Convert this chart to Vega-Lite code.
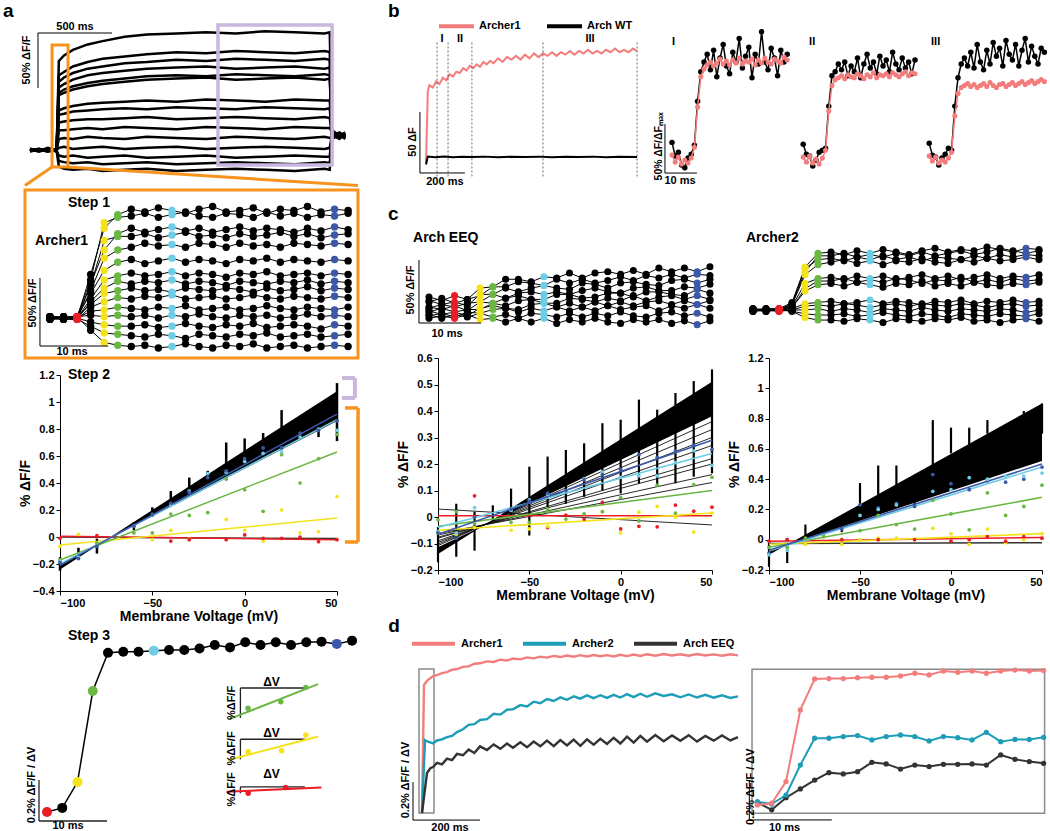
{
"$schema":"https://vega.github.io/schema/vega-lite/v6.json",
"padding":{"left":3,"top":0,"right":0,"bottom":0},
"config":{"font":"Liberation Sans","view":{"stroke":null},
"axis":{"grid":false,"domainColor":"#000","tickColor":"#000","labelColor":"#000","titleColor":"#000","labelFontSize":11,"labelFontWeight":"bold","titleFontSize":14,"titleFontWeight":"bold","tickSize":4,"labelPadding":2},
"text":{"font":"Liberation Sans","fontWeight":"bold","color":"#000"}},
"datasets":{
"a1":[
{"k":1,"x":-190,"y":1},{"k":1,"x":-130,"y":-1},{"k":1,"x":-70,"y":2},{"k":1,"x":-10,"y":0},{"k":1,"x":5,"y":81},{"k":1,"x":40,"y":86},{"k":1,"x":100,"y":91},{"k":1,"x":200,"y":96},{"k":1,"x":300,"y":99},{"k":1,"x":450,"y":103},{"k":1,"x":600,"y":105},{"k":1,"x":800,"y":106},{"k":1,"x":1000,"y":107},{"k":1,"x":1200,"y":106},{"k":1,"x":1400,"y":108},{"k":1,"x":1600,"y":107},{"k":1,"x":1800,"y":106},{"k":1,"x":1835,"y":107},{"k":1,"x":1850,"y":16},{"k":1,"x":1900,"y":12},{"k":1,"x":1940,"y":14},
{"k":2,"x":-190,"y":0},{"k":2,"x":-130,"y":1},{"k":2,"x":-70,"y":-1},{"k":2,"x":-10,"y":1},{"k":2,"x":5,"y":68},{"k":2,"x":40,"y":71},{"k":2,"x":100,"y":76},{"k":2,"x":200,"y":80},{"k":2,"x":300,"y":83},{"k":2,"x":450,"y":85},{"k":2,"x":600,"y":87},{"k":2,"x":800,"y":89},{"k":2,"x":1000,"y":88},{"k":2,"x":1200,"y":90},{"k":2,"x":1400,"y":89},{"k":2,"x":1600,"y":88},{"k":2,"x":1800,"y":90},{"k":2,"x":1835,"y":89},{"k":2,"x":1850,"y":14},{"k":2,"x":1900,"y":10},{"k":2,"x":1940,"y":15},
{"k":3,"x":-190,"y":-1},{"k":3,"x":-130,"y":0},{"k":3,"x":-70,"y":1},{"k":3,"x":-10,"y":-1},{"k":3,"x":5,"y":62},{"k":3,"x":40,"y":66},{"k":3,"x":100,"y":70},{"k":3,"x":200,"y":74},{"k":3,"x":300,"y":76},{"k":3,"x":450,"y":79},{"k":3,"x":600,"y":80},{"k":3,"x":800,"y":82},{"k":3,"x":1000,"y":81},{"k":3,"x":1200,"y":83},{"k":3,"x":1400,"y":82},{"k":3,"x":1600,"y":81},{"k":3,"x":1800,"y":83},{"k":3,"x":1835,"y":82},{"k":3,"x":1850,"y":18},{"k":3,"x":1900,"y":13},{"k":3,"x":1940,"y":11},
{"k":4,"x":-190,"y":1},{"k":4,"x":-130,"y":0},{"k":4,"x":-70,"y":-1},{"k":4,"x":-10,"y":0},{"k":4,"x":5,"y":57},{"k":4,"x":40,"y":60},{"k":4,"x":100,"y":64},{"k":4,"x":200,"y":68},{"k":4,"x":300,"y":70},{"k":4,"x":450,"y":72},{"k":4,"x":600,"y":74},{"k":4,"x":800,"y":75},{"k":4,"x":1000,"y":76},{"k":4,"x":1200,"y":74},{"k":4,"x":1400,"y":75},{"k":4,"x":1600,"y":76},{"k":4,"x":1800,"y":74},{"k":4,"x":1835,"y":75},{"k":4,"x":1850,"y":12},{"k":4,"x":1900,"y":16},{"k":4,"x":1940,"y":13},
{"k":5,"x":-190,"y":0},{"k":5,"x":-130,"y":-1},{"k":5,"x":-70,"y":0},{"k":5,"x":-10,"y":1},{"k":5,"x":5,"y":52},{"k":5,"x":40,"y":55},{"k":5,"x":100,"y":58},{"k":5,"x":200,"y":61},{"k":5,"x":300,"y":63},{"k":5,"x":450,"y":65},{"k":5,"x":600,"y":67},{"k":5,"x":800,"y":68},{"k":5,"x":1000,"y":67},{"k":5,"x":1200,"y":69},{"k":5,"x":1400,"y":68},{"k":5,"x":1600,"y":67},{"k":5,"x":1800,"y":69},{"k":5,"x":1835,"y":68},{"k":5,"x":1850,"y":15},{"k":5,"x":1900,"y":11},{"k":5,"x":1940,"y":14},
{"k":6,"x":-190,"y":-1},{"k":6,"x":-130,"y":1},{"k":6,"x":-70,"y":0},{"k":6,"x":-10,"y":-1},{"k":6,"x":5,"y":50},{"k":6,"x":40,"y":52},{"k":6,"x":100,"y":55},{"k":6,"x":200,"y":58},{"k":6,"x":300,"y":60},{"k":6,"x":450,"y":62},{"k":6,"x":600,"y":64},{"k":6,"x":800,"y":65},{"k":6,"x":1000,"y":66},{"k":6,"x":1200,"y":64},{"k":6,"x":1400,"y":65},{"k":6,"x":1600,"y":66},{"k":6,"x":1800,"y":64},{"k":6,"x":1835,"y":65},{"k":6,"x":1850,"y":17},{"k":6,"x":1900,"y":14},{"k":6,"x":1940,"y":10},
{"k":7,"x":-190,"y":0},{"k":7,"x":-130,"y":1},{"k":7,"x":-70,"y":-1},{"k":7,"x":-10,"y":0},{"k":7,"x":5,"y":36},{"k":7,"x":40,"y":38},{"k":7,"x":100,"y":40},{"k":7,"x":200,"y":42},{"k":7,"x":300,"y":43},{"k":7,"x":450,"y":44},{"k":7,"x":600,"y":45},{"k":7,"x":800,"y":44},{"k":7,"x":1000,"y":46},{"k":7,"x":1200,"y":45},{"k":7,"x":1400,"y":44},{"k":7,"x":1600,"y":46},{"k":7,"x":1800,"y":45},{"k":7,"x":1835,"y":45},{"k":7,"x":1850,"y":13},{"k":7,"x":1900,"y":15},{"k":7,"x":1940,"y":12},
{"k":8,"x":-190,"y":1},{"k":8,"x":-130,"y":-1},{"k":8,"x":-70,"y":0},{"k":8,"x":-10,"y":1},{"k":8,"x":5,"y":32},{"k":8,"x":40,"y":33},{"k":8,"x":100,"y":35},{"k":8,"x":200,"y":36},{"k":8,"x":300,"y":37},{"k":8,"x":450,"y":38},{"k":8,"x":600,"y":37},{"k":8,"x":800,"y":39},{"k":8,"x":1000,"y":38},{"k":8,"x":1200,"y":37},{"k":8,"x":1400,"y":39},{"k":8,"x":1600,"y":38},{"k":8,"x":1800,"y":37},{"k":8,"x":1835,"y":38},{"k":8,"x":1850,"y":11},{"k":8,"x":1900,"y":13},{"k":8,"x":1940,"y":16},
{"k":9,"x":-190,"y":0},{"k":9,"x":-130,"y":0},{"k":9,"x":-70,"y":1},{"k":9,"x":-10,"y":-1},{"k":9,"x":5,"y":25},{"k":9,"x":40,"y":26},{"k":9,"x":100,"y":27},{"k":9,"x":200,"y":28},{"k":9,"x":300,"y":28},{"k":9,"x":450,"y":29},{"k":9,"x":600,"y":30},{"k":9,"x":800,"y":28},{"k":9,"x":1000,"y":29},{"k":9,"x":1200,"y":30},{"k":9,"x":1400,"y":29},{"k":9,"x":1600,"y":28},{"k":9,"x":1800,"y":30},{"k":9,"x":1835,"y":29},{"k":9,"x":1850,"y":14},{"k":9,"x":1900,"y":12},{"k":9,"x":1940,"y":13},
{"k":10,"x":-190,"y":-1},{"k":10,"x":-130,"y":1},{"k":10,"x":-70,"y":0},{"k":10,"x":-10,"y":0},{"k":10,"x":5,"y":18},{"k":10,"x":40,"y":18},{"k":10,"x":100,"y":19},{"k":10,"x":200,"y":20},{"k":10,"x":300,"y":19},{"k":10,"x":450,"y":21},{"k":10,"x":600,"y":20},{"k":10,"x":800,"y":19},{"k":10,"x":1000,"y":21},{"k":10,"x":1200,"y":20},{"k":10,"x":1400,"y":19},{"k":10,"x":1600,"y":21},{"k":10,"x":1800,"y":20},{"k":10,"x":1835,"y":20},{"k":10,"x":1850,"y":16},{"k":10,"x":1900,"y":14},{"k":10,"x":1940,"y":11},
{"k":11,"x":-190,"y":1},{"k":11,"x":-130,"y":0},{"k":11,"x":-70,"y":-1},{"k":11,"x":-10,"y":1},{"k":11,"x":5,"y":10},{"k":11,"x":40,"y":11},{"k":11,"x":100,"y":10},{"k":11,"x":200,"y":12},{"k":11,"x":300,"y":11},{"k":11,"x":450,"y":10},{"k":11,"x":600,"y":12},{"k":11,"x":800,"y":11},{"k":11,"x":1000,"y":10},{"k":11,"x":1200,"y":12},{"k":11,"x":1400,"y":11},{"k":11,"x":1600,"y":10},{"k":11,"x":1800,"y":12},{"k":11,"x":1835,"y":11},{"k":11,"x":1850,"y":12},{"k":11,"x":1900,"y":15},{"k":11,"x":1940,"y":13},
{"k":12,"x":-190,"y":0},{"k":12,"x":-130,"y":-1},{"k":12,"x":-70,"y":1},{"k":12,"x":-10,"y":0},{"k":12,"x":5,"y":2},{"k":12,"x":40,"y":3},{"k":12,"x":100,"y":1},{"k":12,"x":200,"y":2},{"k":12,"x":300,"y":3},{"k":12,"x":450,"y":1},{"k":12,"x":600,"y":2},{"k":12,"x":800,"y":3},{"k":12,"x":1000,"y":1},{"k":12,"x":1200,"y":2},{"k":12,"x":1400,"y":3},{"k":12,"x":1600,"y":2},{"k":12,"x":1800,"y":1},{"k":12,"x":1835,"y":2},{"k":12,"x":1850,"y":13},{"k":12,"x":1900,"y":11},{"k":12,"x":1940,"y":14},
{"k":13,"x":-190,"y":-1},{"k":13,"x":-130,"y":0},{"k":13,"x":-70,"y":1},{"k":13,"x":-10,"y":-1},{"k":13,"x":5,"y":-5},{"k":13,"x":40,"y":-6},{"k":13,"x":100,"y":-5},{"k":13,"x":200,"y":-7},{"k":13,"x":300,"y":-6},{"k":13,"x":450,"y":-5},{"k":13,"x":600,"y":-7},{"k":13,"x":800,"y":-6},{"k":13,"x":1000,"y":-5},{"k":13,"x":1200,"y":-7},{"k":13,"x":1400,"y":-6},{"k":13,"x":1600,"y":-5},{"k":13,"x":1800,"y":-6},{"k":13,"x":1835,"y":-6},{"k":13,"x":1850,"y":15},{"k":13,"x":1900,"y":13},{"k":13,"x":1940,"y":12},
{"k":14,"x":-190,"y":1},{"k":14,"x":-130,"y":0},{"k":14,"x":-70,"y":-1},{"k":14,"x":-10,"y":0},{"k":14,"x":5,"y":-10},{"k":14,"x":40,"y":-11},{"k":14,"x":100,"y":-12},{"k":14,"x":200,"y":-11},{"k":14,"x":300,"y":-13},{"k":14,"x":450,"y":-12},{"k":14,"x":600,"y":-11},{"k":14,"x":800,"y":-13},{"k":14,"x":1000,"y":-12},{"k":14,"x":1200,"y":-11},{"k":14,"x":1400,"y":-12},{"k":14,"x":1600,"y":-13},{"k":14,"x":1800,"y":-11},{"k":14,"x":1835,"y":-12},{"k":14,"x":1850,"y":10},{"k":14,"x":1900,"y":14},{"k":14,"x":1940,"y":13},
{"k":15,"x":-190,"y":0},{"k":15,"x":-130,"y":1},{"k":15,"x":-70,"y":0},{"k":15,"x":-10,"y":-1},{"k":15,"x":5,"y":-15},{"k":15,"x":40,"y":-17},{"k":15,"x":100,"y":-18},{"k":15,"x":200,"y":-17},{"k":15,"x":300,"y":-19},{"k":15,"x":450,"y":-18},{"k":15,"x":600,"y":-17},{"k":15,"x":800,"y":-19},{"k":15,"x":1000,"y":-18},{"k":15,"x":1200,"y":-17},{"k":15,"x":1400,"y":-18},{"k":15,"x":1600,"y":-19},{"k":15,"x":1800,"y":-17},{"k":15,"x":1835,"y":-18},{"k":15,"x":1850,"y":14},{"k":15,"x":1900,"y":12},{"k":15,"x":1940,"y":15}
],
"a2":[
{"k":1,"x":0,"y":1},{"k":1,"x":1,"y":-1},{"k":1,"x":2,"y":0},{"k":1,"x":3,"y":32},{"k":1,"x":4,"y":66},{"k":1,"x":5,"y":76},{"k":1,"x":6,"y":80},{"k":1,"x":7,"y":78},{"k":1,"x":8,"y":81},{"k":1,"x":9,"y":79},{"k":1,"x":10,"y":77},{"k":1,"x":11,"y":80},{"k":1,"x":12,"y":82},{"k":1,"x":13,"y":78},{"k":1,"x":14,"y":79},{"k":1,"x":15,"y":81},{"k":1,"x":16,"y":77},{"k":1,"x":17,"y":80},{"k":1,"x":18,"y":79},{"k":1,"x":19,"y":82},{"k":1,"x":20,"y":78},{"k":1,"x":21,"y":80},{"k":1,"x":22,"y":79},
{"k":2,"x":0,"y":-1},{"k":2,"x":1,"y":1},{"k":2,"x":2,"y":1},{"k":2,"x":3,"y":28},{"k":2,"x":4,"y":70},{"k":2,"x":5,"y":74},{"k":2,"x":6,"y":75},{"k":2,"x":7,"y":77},{"k":2,"x":8,"y":74},{"k":2,"x":9,"y":76},{"k":2,"x":10,"y":78},{"k":2,"x":11,"y":75},{"k":2,"x":12,"y":74},{"k":2,"x":13,"y":77},{"k":2,"x":14,"y":76},{"k":2,"x":15,"y":74},{"k":2,"x":16,"y":78},{"k":2,"x":17,"y":75},{"k":2,"x":18,"y":77},{"k":2,"x":19,"y":74},{"k":2,"x":20,"y":76},{"k":2,"x":21,"y":75},{"k":2,"x":22,"y":77},
{"k":3,"x":0,"y":0},{"k":3,"x":1,"y":1},{"k":3,"x":2,"y":-1},{"k":3,"x":3,"y":25},{"k":3,"x":4,"y":50},{"k":3,"x":5,"y":62},{"k":3,"x":6,"y":66},{"k":3,"x":7,"y":63},{"k":3,"x":8,"y":65},{"k":3,"x":9,"y":67},{"k":3,"x":10,"y":64},{"k":3,"x":11,"y":66},{"k":3,"x":12,"y":63},{"k":3,"x":13,"y":65},{"k":3,"x":14,"y":67},{"k":3,"x":15,"y":64},{"k":3,"x":16,"y":66},{"k":3,"x":17,"y":65},{"k":3,"x":18,"y":63},{"k":3,"x":19,"y":66},{"k":3,"x":20,"y":64},{"k":3,"x":21,"y":67},{"k":3,"x":22,"y":65},
{"k":4,"x":0,"y":1},{"k":4,"x":1,"y":0},{"k":4,"x":2,"y":1},{"k":4,"x":3,"y":24},{"k":4,"x":4,"y":57},{"k":4,"x":5,"y":60},{"k":4,"x":6,"y":60},{"k":4,"x":7,"y":62},{"k":4,"x":8,"y":59},{"k":4,"x":9,"y":61},{"k":4,"x":10,"y":63},{"k":4,"x":11,"y":60},{"k":4,"x":12,"y":61},{"k":4,"x":13,"y":59},{"k":4,"x":14,"y":62},{"k":4,"x":15,"y":60},{"k":4,"x":16,"y":61},{"k":4,"x":17,"y":63},{"k":4,"x":18,"y":60},{"k":4,"x":19,"y":62},{"k":4,"x":20,"y":59},{"k":4,"x":21,"y":61},{"k":4,"x":22,"y":62},
{"k":5,"x":0,"y":-1},{"k":5,"x":1,"y":0},{"k":5,"x":2,"y":0},{"k":5,"x":3,"y":20},{"k":5,"x":4,"y":44},{"k":5,"x":5,"y":50},{"k":5,"x":6,"y":52},{"k":5,"x":7,"y":55},{"k":5,"x":8,"y":53},{"k":5,"x":9,"y":54},{"k":5,"x":10,"y":52},{"k":5,"x":11,"y":55},{"k":5,"x":12,"y":54},{"k":5,"x":13,"y":52},{"k":5,"x":14,"y":55},{"k":5,"x":15,"y":53},{"k":5,"x":16,"y":54},{"k":5,"x":17,"y":52},{"k":5,"x":18,"y":55},{"k":5,"x":19,"y":54},{"k":5,"x":20,"y":53},{"k":5,"x":21,"y":55},{"k":5,"x":22,"y":54},
{"k":6,"x":0,"y":0},{"k":6,"x":1,"y":-1},{"k":6,"x":2,"y":1},{"k":6,"x":3,"y":18},{"k":6,"x":4,"y":35},{"k":6,"x":5,"y":41},{"k":6,"x":6,"y":43},{"k":6,"x":7,"y":40},{"k":6,"x":8,"y":42},{"k":6,"x":9,"y":44},{"k":6,"x":10,"y":41},{"k":6,"x":11,"y":43},{"k":6,"x":12,"y":42},{"k":6,"x":13,"y":40},{"k":6,"x":14,"y":43},{"k":6,"x":15,"y":42},{"k":6,"x":16,"y":44},{"k":6,"x":17,"y":41},{"k":6,"x":18,"y":43},{"k":6,"x":19,"y":42},{"k":6,"x":20,"y":41},{"k":6,"x":21,"y":43},{"k":6,"x":22,"y":42},
{"k":7,"x":0,"y":1},{"k":7,"x":1,"y":1},{"k":7,"x":2,"y":0},{"k":7,"x":3,"y":14},{"k":7,"x":4,"y":28},{"k":7,"x":5,"y":31},{"k":7,"x":6,"y":33},{"k":7,"x":7,"y":31},{"k":7,"x":8,"y":32},{"k":7,"x":9,"y":34},{"k":7,"x":10,"y":31},{"k":7,"x":11,"y":33},{"k":7,"x":12,"y":32},{"k":7,"x":13,"y":30},{"k":7,"x":14,"y":33},{"k":7,"x":15,"y":32},{"k":7,"x":16,"y":34},{"k":7,"x":17,"y":31},{"k":7,"x":18,"y":32},{"k":7,"x":19,"y":33},{"k":7,"x":20,"y":31},{"k":7,"x":21,"y":33},{"k":7,"x":22,"y":32},
{"k":8,"x":0,"y":0},{"k":8,"x":1,"y":-1},{"k":8,"x":2,"y":-1},{"k":8,"x":3,"y":12},{"k":8,"x":4,"y":22},{"k":8,"x":5,"y":27},{"k":8,"x":6,"y":25},{"k":8,"x":7,"y":27},{"k":8,"x":8,"y":26},{"k":8,"x":9,"y":28},{"k":8,"x":10,"y":25},{"k":8,"x":11,"y":27},{"k":8,"x":12,"y":26},{"k":8,"x":13,"y":24},{"k":8,"x":14,"y":27},{"k":8,"x":15,"y":26},{"k":8,"x":16,"y":25},{"k":8,"x":17,"y":27},{"k":8,"x":18,"y":26},{"k":8,"x":19,"y":28},{"k":8,"x":20,"y":25},{"k":8,"x":21,"y":27},{"k":8,"x":22,"y":26},
{"k":9,"x":0,"y":-1},{"k":9,"x":1,"y":0},{"k":9,"x":2,"y":1},{"k":9,"x":3,"y":10},{"k":9,"x":4,"y":18},{"k":9,"x":5,"y":20},{"k":9,"x":6,"y":22},{"k":9,"x":7,"y":20},{"k":9,"x":8,"y":21},{"k":9,"x":9,"y":19},{"k":9,"x":10,"y":22},{"k":9,"x":11,"y":21},{"k":9,"x":12,"y":20},{"k":9,"x":13,"y":22},{"k":9,"x":14,"y":21},{"k":9,"x":15,"y":19},{"k":9,"x":16,"y":22},{"k":9,"x":17,"y":20},{"k":9,"x":18,"y":21},{"k":9,"x":19,"y":23},{"k":9,"x":20,"y":20},{"k":9,"x":21,"y":22},{"k":9,"x":22,"y":21},
{"k":10,"x":0,"y":1},{"k":10,"x":1,"y":0},{"k":10,"x":2,"y":-1},{"k":10,"x":3,"y":8},{"k":10,"x":4,"y":12},{"k":10,"x":5,"y":15},{"k":10,"x":6,"y":14},{"k":10,"x":7,"y":16},{"k":10,"x":8,"y":15},{"k":10,"x":9,"y":17},{"k":10,"x":10,"y":14},{"k":10,"x":11,"y":15},{"k":10,"x":12,"y":16},{"k":10,"x":13,"y":14},{"k":10,"x":14,"y":15},{"k":10,"x":15,"y":17},{"k":10,"x":16,"y":15},{"k":10,"x":17,"y":14},{"k":10,"x":18,"y":16},{"k":10,"x":19,"y":15},{"k":10,"x":20,"y":14},{"k":10,"x":21,"y":16},{"k":10,"x":22,"y":15},
{"k":11,"x":0,"y":0},{"k":11,"x":1,"y":1},{"k":11,"x":2,"y":0},{"k":11,"x":3,"y":5},{"k":11,"x":4,"y":6},{"k":11,"x":5,"y":8},{"k":11,"x":6,"y":7},{"k":11,"x":7,"y":6},{"k":11,"x":8,"y":8},{"k":11,"x":9,"y":7},{"k":11,"x":10,"y":9},{"k":11,"x":11,"y":6},{"k":11,"x":12,"y":7},{"k":11,"x":13,"y":8},{"k":11,"x":14,"y":6},{"k":11,"x":15,"y":7},{"k":11,"x":16,"y":9},{"k":11,"x":17,"y":7},{"k":11,"x":18,"y":6},{"k":11,"x":19,"y":8},{"k":11,"x":20,"y":7},{"k":11,"x":21,"y":6},{"k":11,"x":22,"y":8},
{"k":12,"x":0,"y":-1},{"k":12,"x":1,"y":0},{"k":12,"x":2,"y":1},{"k":12,"x":3,"y":2},{"k":12,"x":4,"y":1},{"k":12,"x":5,"y":2},{"k":12,"x":6,"y":1},{"k":12,"x":7,"y":2},{"k":12,"x":8,"y":0},{"k":12,"x":9,"y":2},{"k":12,"x":10,"y":1},{"k":12,"x":11,"y":3},{"k":12,"x":12,"y":1},{"k":12,"x":13,"y":0},{"k":12,"x":14,"y":2},{"k":12,"x":15,"y":1},{"k":12,"x":16,"y":2},{"k":12,"x":17,"y":0},{"k":12,"x":18,"y":1},{"k":12,"x":19,"y":3},{"k":12,"x":20,"y":1},{"k":12,"x":21,"y":2},{"k":12,"x":22,"y":1},
{"k":13,"x":0,"y":0},{"k":13,"x":1,"y":-1},{"k":13,"x":2,"y":0},{"k":13,"x":3,"y":-3},{"k":13,"x":4,"y":-5},{"k":13,"x":5,"y":-6},{"k":13,"x":6,"y":-6},{"k":13,"x":7,"y":-5},{"k":13,"x":8,"y":-7},{"k":13,"x":9,"y":-6},{"k":13,"x":10,"y":-4},{"k":13,"x":11,"y":-6},{"k":13,"x":12,"y":-7},{"k":13,"x":13,"y":-5},{"k":13,"x":14,"y":-6},{"k":13,"x":15,"y":-4},{"k":13,"x":16,"y":-7},{"k":13,"x":17,"y":-6},{"k":13,"x":18,"y":-5},{"k":13,"x":19,"y":-6},{"k":13,"x":20,"y":-8},{"k":13,"x":21,"y":-5},{"k":13,"x":22,"y":-6},
{"k":14,"x":0,"y":1},{"k":14,"x":1,"y":0},{"k":14,"x":2,"y":-1},{"k":14,"x":3,"y":-6},{"k":14,"x":4,"y":-11},{"k":14,"x":5,"y":-12},{"k":14,"x":6,"y":-13},{"k":14,"x":7,"y":-14},{"k":14,"x":8,"y":-12},{"k":14,"x":9,"y":-13},{"k":14,"x":10,"y":-15},{"k":14,"x":11,"y":-12},{"k":14,"x":12,"y":-13},{"k":14,"x":13,"y":-14},{"k":14,"x":14,"y":-12},{"k":14,"x":15,"y":-13},{"k":14,"x":16,"y":-11},{"k":14,"x":17,"y":-14},{"k":14,"x":18,"y":-13},{"k":14,"x":19,"y":-12},{"k":14,"x":20,"y":-14},{"k":14,"x":21,"y":-13},{"k":14,"x":22,"y":-12},
{"k":15,"x":0,"y":0},{"k":15,"x":1,"y":0},{"k":15,"x":2,"y":1},{"k":15,"x":3,"y":-9},{"k":15,"x":4,"y":-18},{"k":15,"x":5,"y":-20},{"k":15,"x":6,"y":-21},{"k":15,"x":7,"y":-20},{"k":15,"x":8,"y":-22},{"k":15,"x":9,"y":-21},{"k":15,"x":10,"y":-19},{"k":15,"x":11,"y":-21},{"k":15,"x":12,"y":-22},{"k":15,"x":13,"y":-20},{"k":15,"x":14,"y":-21},{"k":15,"x":15,"y":-19},{"k":15,"x":16,"y":-22},{"k":15,"x":17,"y":-21},{"k":15,"x":18,"y":-20},{"k":15,"x":19,"y":-22},{"k":15,"x":20,"y":-21},{"k":15,"x":21,"y":-20},{"k":15,"x":22,"y":-21}
],
"a3w":[{"x":-100,"y":-0.24,"y2":-0.2},{"x":-76.9,"y":-0.037,"y2":-0.037},{"x":50,"y":1.08,"y2":0.86}],
"a3s":[{"x":-100,"y":-0.25,"y2":-0.15},{"x":-90,"y":-0.17,"y2":-0.08},{"x":-80,"y":-0.123,"y2":-0.012},{"x":-70,"y":-0.02,"y2":0.01},{"x":-60,"y":0.05,"y2":0.11},{"x":-50,"y":0.15,"y2":0.22},{"x":-40,"y":0.25,"y2":0.34},{"x":-30,"y":0.32,"y2":0.44},{"x":-20,"y":0.44,"y2":0.49},{"x":-10,"y":0.42,"y2":0.7},{"x":0,"y":0.59,"y2":0.73},{"x":10,"y":0.64,"y2":0.77},{"x":20,"y":0.66,"y2":0.94},{"x":30,"y":0.74,"y2":0.85},{"x":40,"y":0.74,"y2":0.88},{"x":50,"y":0.71,"y2":1.14}],
"a3l":[{"s":3,"x":-100,"y":0},{"s":3,"x":50,"y":-0.012},{"s":2,"x":-100,"y":0.005},{"s":2,"x":50,"y":-0.02},{"s":4,"x":-100,"y":-0.06},{"s":4,"x":50,"y":0.14},{"s":5,"x":-100,"y":-0.17},{"s":5,"x":50,"y":0.63},{"s":9,"x":-100,"y":-0.2},{"s":9,"x":50,"y":0.87},{"s":21,"x":-100,"y":-0.21},{"s":21,"x":50,"y":0.91}],
"a3d":[{"s":5,"x":-100,"y":-0.17},{"s":5,"x":-80,"y":-0.045},{"s":5,"x":-60,"y":0.03},{"s":5,"x":-50,"y":0.03},{"s":5,"x":-40,"y":0.17},{"s":5,"x":-30,"y":0.16},{"s":5,"x":-20,"y":0.18},{"s":5,"x":-10,"y":0.43},{"s":5,"x":0,"y":0.35},{"s":5,"x":10,"y":0.19},{"s":5,"x":20,"y":0.61},{"s":5,"x":30,"y":0.4},{"s":5,"x":40,"y":0.58},{"s":5,"x":50,"y":0.76},
{"s":4,"x":-100,"y":-0.07},{"s":4,"x":-90,"y":0.02},{"s":4,"x":-50,"y":-0.02},{"s":4,"x":-40,"y":0.05},{"s":4,"x":-30,"y":-0.015},{"s":4,"x":-10,"y":0.13},{"s":4,"x":0,"y":0.05},{"s":4,"x":10,"y":-0.03},{"s":4,"x":20,"y":0.2},{"s":4,"x":30,"y":0.03},{"s":4,"x":40,"y":0.04},{"s":4,"x":50,"y":0.3},
{"s":2,"x":-100,"y":-0.01},{"s":2,"x":-80,"y":0.01},{"s":2,"x":-40,"y":-0.03},{"s":2,"x":-30,"y":-0.02},{"s":2,"x":-10,"y":-0.02},{"s":2,"x":0,"y":0.015},{"s":2,"x":10,"y":-0.01},{"s":2,"x":20,"y":-0.01},{"s":2,"x":30,"y":0},{"s":2,"x":40,"y":-0.035},{"s":2,"x":50,"y":-0.02},
{"s":9,"x":-100,"y":-0.18},{"s":9,"x":-90,"y":-0.15},{"s":9,"x":-60,"y":0.08},{"s":9,"x":-40,"y":0.24},{"s":9,"x":-30,"y":0.34},{"s":9,"x":-20,"y":0.47},{"s":9,"x":-10,"y":0.48},{"s":9,"x":0,"y":0.56},{"s":9,"x":10,"y":0.62},{"s":9,"x":20,"y":0.63},{"s":9,"x":30,"y":0.74},{"s":9,"x":40,"y":0.8},{"s":9,"x":50,"y":0.79},
{"s":21,"x":-100,"y":-0.19},{"s":21,"x":-90,"y":-0.16},{"s":21,"x":-80,"y":-0.07},{"s":21,"x":-60,"y":0.08},{"s":21,"x":-50,"y":0.17},{"s":21,"x":-40,"y":0.25},{"s":21,"x":-30,"y":0.33},{"s":21,"x":-20,"y":0.44},{"s":21,"x":-10,"y":0.49},{"s":21,"x":0,"y":0.58},{"s":21,"x":10,"y":0.66},{"s":21,"x":20,"y":0.66},{"s":21,"x":30,"y":0.77},{"s":21,"x":40,"y":0.79},{"s":21,"x":50,"y":0.86}],
"a4":[{"x":2,"y":0},{"x":3,"y":0.02},{"x":4,"y":0.146},{"x":5,"y":0.59},{"x":6,"y":0.777},{"x":7,"y":0.782},{"x":8,"y":0.782},{"x":9,"y":0.787},{"x":10,"y":0.79},{"x":11,"y":0.79},{"x":12,"y":0.798},{"x":13,"y":0.815},{"x":14,"y":0.803},{"x":15,"y":0.828},{"x":16,"y":0.815},{"x":17,"y":0.828},{"x":18,"y":0.815},{"x":19,"y":0.828},{"x":20,"y":0.831},{"x":21,"y":0.82},{"x":22,"y":0.836}],
"btr":[
{"series":"Archer1","x":0,"y":-1},{"series":"Archer1","x":8,"y":58},{"series":"Archer1","x":15,"y":63},{"series":"Archer1","x":30,"y":61},{"series":"Archer1","x":45,"y":66},{"series":"Archer1","x":60,"y":64},{"series":"Archer1","x":75,"y":69},{"series":"Archer1","x":90,"y":67},{"series":"Archer1","x":105,"y":72},{"series":"Archer1","x":120,"y":70},{"series":"Archer1","x":135,"y":74},{"series":"Archer1","x":150,"y":73},{"series":"Archer1","x":165,"y":77},{"series":"Archer1","x":180,"y":75},{"series":"Archer1","x":195,"y":79},{"series":"Archer1","x":210,"y":77},{"series":"Archer1","x":225,"y":80},{"series":"Archer1","x":240,"y":78},{"series":"Archer1","x":255,"y":82},{"series":"Archer1","x":270,"y":80},{"series":"Archer1","x":285,"y":83},{"series":"Archer1","x":300,"y":81},{"series":"Archer1","x":320,"y":85},{"series":"Archer1","x":340,"y":82},{"series":"Archer1","x":360,"y":86},{"series":"Archer1","x":380,"y":84},{"series":"Archer1","x":400,"y":87},{"series":"Archer1","x":420,"y":84},{"series":"Archer1","x":440,"y":88},{"series":"Archer1","x":460,"y":85},{"series":"Archer1","x":480,"y":89},{"series":"Archer1","x":500,"y":86},{"series":"Archer1","x":520,"y":89},{"series":"Archer1","x":540,"y":87},{"series":"Archer1","x":560,"y":90},{"series":"Archer1","x":580,"y":87},{"series":"Archer1","x":600,"y":90},{"series":"Archer1","x":620,"y":88},{"series":"Archer1","x":640,"y":91},{"series":"Archer1","x":660,"y":88},{"series":"Archer1","x":680,"y":91},{"series":"Archer1","x":700,"y":89},{"series":"Archer1","x":720,"y":92},{"series":"Archer1","x":740,"y":89},{"series":"Archer1","x":760,"y":91},{"series":"Archer1","x":780,"y":89},{"series":"Archer1","x":800,"y":92},{"series":"Archer1","x":820,"y":90},{"series":"Archer1","x":840,"y":93},{"series":"Archer1","x":860,"y":90},{"series":"Archer1","x":880,"y":92},{"series":"Archer1","x":900,"y":90},{"series":"Archer1","x":920,"y":93},{"series":"Archer1","x":938,"y":91},
{"series":"Arch WT","x":0,"y":-2},{"series":"Arch WT","x":8,"y":4.5},{"series":"Arch WT","x":40,"y":3.8},{"series":"Arch WT","x":80,"y":4.4},{"series":"Arch WT","x":120,"y":3.9},{"series":"Arch WT","x":160,"y":4.3},{"series":"Arch WT","x":200,"y":4},{"series":"Arch WT","x":260,"y":4.4},{"series":"Arch WT","x":320,"y":3.9},{"series":"Arch WT","x":380,"y":4.3},{"series":"Arch WT","x":440,"y":4},{"series":"Arch WT","x":500,"y":4.4},{"series":"Arch WT","x":560,"y":3.9},{"series":"Arch WT","x":620,"y":4.2},{"series":"Arch WT","x":680,"y":4},{"series":"Arch WT","x":740,"y":4.4},{"series":"Arch WT","x":800,"y":3.9},{"series":"Arch WT","x":860,"y":4.3},{"series":"Arch WT","x":938,"y":4.1}],
"bin":[
{"w":"I","s":"A1","x":0,"y":5},{"w":"I","s":"A1","x":1,"y":-2},{"w":"I","s":"A1","x":2,"y":3},{"w":"I","s":"A1","x":3,"y":-4},{"w":"I","s":"A1","x":4,"y":0},{"w":"I","s":"A1","x":5,"y":-3},{"w":"I","s":"A1","x":6,"y":2},{"w":"I","s":"A1","x":7,"y":13},{"w":"I","s":"A1","x":8,"y":54},{"w":"I","s":"A1","x":9,"y":85},{"w":"I","s":"A1","x":10,"y":93},{"w":"I","s":"A1","x":11,"y":97},{"w":"I","s":"A1","x":12,"y":100},{"w":"I","s":"A1","x":13,"y":96},{"w":"I","s":"A1","x":14,"y":99},{"w":"I","s":"A1","x":15,"y":103},{"w":"I","s":"A1","x":16,"y":98},{"w":"I","s":"A1","x":17,"y":101},{"w":"I","s":"A1","x":18,"y":97},{"w":"I","s":"A1","x":19,"y":102},{"w":"I","s":"A1","x":20,"y":99},{"w":"I","s":"A1","x":21,"y":104},{"w":"I","s":"A1","x":22,"y":98},{"w":"I","s":"A1","x":23,"y":101},{"w":"I","s":"A1","x":24,"y":100},{"w":"I","s":"A1","x":25,"y":103},{"w":"I","s":"A1","x":26,"y":97},{"w":"I","s":"A1","x":27,"y":102},{"w":"I","s":"A1","x":28,"y":99},{"w":"I","s":"A1","x":29,"y":104},{"w":"I","s":"A1","x":30,"y":100},{"w":"I","s":"A1","x":31,"y":98},{"w":"I","s":"A1","x":32,"y":103},{"w":"I","s":"A1","x":33,"y":101},{"w":"I","s":"A1","x":34,"y":99},{"w":"I","s":"A1","x":35,"y":105},{"w":"I","s":"A1","x":36,"y":102},
{"w":"I","s":"WT","x":0,"y":18},{"w":"I","s":"WT","x":1,"y":4},{"w":"I","s":"WT","x":2,"y":8},{"w":"I","s":"WT","x":3,"y":-5},{"w":"I","s":"WT","x":4,"y":-8},{"w":"I","s":"WT","x":5,"y":2},{"w":"I","s":"WT","x":6,"y":6},{"w":"I","s":"WT","x":7,"y":15},{"w":"I","s":"WT","x":8,"y":60},{"w":"I","s":"WT","x":9,"y":90},{"w":"I","s":"WT","x":10,"y":100},{"w":"I","s":"WT","x":11,"y":108},{"w":"I","s":"WT","x":12,"y":92},{"w":"I","s":"WT","x":13,"y":112},{"w":"I","s":"WT","x":14,"y":85},{"w":"I","s":"WT","x":15,"y":104},{"w":"I","s":"WT","x":16,"y":118},{"w":"I","s":"WT","x":17,"y":96},{"w":"I","s":"WT","x":18,"y":88},{"w":"I","s":"WT","x":19,"y":110},{"w":"I","s":"WT","x":20,"y":100},{"w":"I","s":"WT","x":21,"y":124},{"w":"I","s":"WT","x":22,"y":94},{"w":"I","s":"WT","x":23,"y":106},{"w":"I","s":"WT","x":24,"y":115},{"w":"I","s":"WT","x":25,"y":84},{"w":"I","s":"WT","x":26,"y":108},{"w":"I","s":"WT","x":27,"y":98},{"w":"I","s":"WT","x":28,"y":131},{"w":"I","s":"WT","x":29,"y":100},{"w":"I","s":"WT","x":30,"y":92},{"w":"I","s":"WT","x":31,"y":114},{"w":"I","s":"WT","x":32,"y":104},{"w":"I","s":"WT","x":33,"y":86},{"w":"I","s":"WT","x":34,"y":112},{"w":"I","s":"WT","x":35,"y":100},{"w":"I","s":"WT","x":36,"y":108},
{"w":"II","s":"A1","x":0,"y":3},{"w":"II","s":"A1","x":1,"y":-2},{"w":"II","s":"A1","x":2,"y":4},{"w":"II","s":"A1","x":3,"y":-3},{"w":"II","s":"A1","x":4,"y":1},{"w":"II","s":"A1","x":5,"y":-4},{"w":"II","s":"A1","x":6,"y":2},{"w":"II","s":"A1","x":7,"y":10},{"w":"II","s":"A1","x":8,"y":50},{"w":"II","s":"A1","x":9,"y":76},{"w":"II","s":"A1","x":10,"y":82},{"w":"II","s":"A1","x":11,"y":84},{"w":"II","s":"A1","x":12,"y":86},{"w":"II","s":"A1","x":13,"y":83},{"w":"II","s":"A1","x":14,"y":87},{"w":"II","s":"A1","x":15,"y":85},{"w":"II","s":"A1","x":16,"y":84},{"w":"II","s":"A1","x":17,"y":88},{"w":"II","s":"A1","x":18,"y":86},{"w":"II","s":"A1","x":19,"y":83},{"w":"II","s":"A1","x":20,"y":87},{"w":"II","s":"A1","x":21,"y":85},{"w":"II","s":"A1","x":22,"y":89},{"w":"II","s":"A1","x":23,"y":84},{"w":"II","s":"A1","x":24,"y":87},{"w":"II","s":"A1","x":25,"y":86},{"w":"II","s":"A1","x":26,"y":88},{"w":"II","s":"A1","x":27,"y":85},{"w":"II","s":"A1","x":28,"y":89},{"w":"II","s":"A1","x":29,"y":87},{"w":"II","s":"A1","x":30,"y":85},{"w":"II","s":"A1","x":31,"y":88},{"w":"II","s":"A1","x":32,"y":90},{"w":"II","s":"A1","x":33,"y":86},{"w":"II","s":"A1","x":34,"y":89},{"w":"II","s":"A1","x":35,"y":88},
{"w":"II","s":"WT","x":0,"y":16},{"w":"II","s":"WT","x":1,"y":6},{"w":"II","s":"WT","x":2,"y":4},{"w":"II","s":"WT","x":3,"y":-6},{"w":"II","s":"WT","x":4,"y":0},{"w":"II","s":"WT","x":5,"y":8},{"w":"II","s":"WT","x":6,"y":10},{"w":"II","s":"WT","x":7,"y":12},{"w":"II","s":"WT","x":8,"y":55},{"w":"II","s":"WT","x":9,"y":86},{"w":"II","s":"WT","x":10,"y":90},{"w":"II","s":"WT","x":11,"y":98},{"w":"II","s":"WT","x":12,"y":92},{"w":"II","s":"WT","x":13,"y":100},{"w":"II","s":"WT","x":14,"y":86},{"w":"II","s":"WT","x":15,"y":96},{"w":"II","s":"WT","x":16,"y":90},{"w":"II","s":"WT","x":17,"y":104},{"w":"II","s":"WT","x":18,"y":84},{"w":"II","s":"WT","x":19,"y":98},{"w":"II","s":"WT","x":20,"y":108},{"w":"II","s":"WT","x":21,"y":94},{"w":"II","s":"WT","x":22,"y":100},{"w":"II","s":"WT","x":23,"y":88},{"w":"II","s":"WT","x":24,"y":106},{"w":"II","s":"WT","x":25,"y":96},{"w":"II","s":"WT","x":26,"y":102},{"w":"II","s":"WT","x":27,"y":90},{"w":"II","s":"WT","x":28,"y":110},{"w":"II","s":"WT","x":29,"y":98},{"w":"II","s":"WT","x":30,"y":92},{"w":"II","s":"WT","x":31,"y":104},{"w":"II","s":"WT","x":32,"y":94},{"w":"II","s":"WT","x":33,"y":100},{"w":"II","s":"WT","x":34,"y":88},{"w":"II","s":"WT","x":35,"y":102},
{"w":"III","s":"A1","x":0,"y":4},{"w":"III","s":"A1","x":1,"y":-1},{"w":"III","s":"A1","x":2,"y":3},{"w":"III","s":"A1","x":3,"y":-3},{"w":"III","s":"A1","x":4,"y":0},{"w":"III","s":"A1","x":5,"y":-2},{"w":"III","s":"A1","x":6,"y":2},{"w":"III","s":"A1","x":7,"y":8},{"w":"III","s":"A1","x":8,"y":45},{"w":"III","s":"A1","x":9,"y":68},{"w":"III","s":"A1","x":10,"y":74},{"w":"III","s":"A1","x":11,"y":76},{"w":"III","s":"A1","x":12,"y":78},{"w":"III","s":"A1","x":13,"y":75},{"w":"III","s":"A1","x":14,"y":77},{"w":"III","s":"A1","x":15,"y":74},{"w":"III","s":"A1","x":16,"y":76},{"w":"III","s":"A1","x":17,"y":78},{"w":"III","s":"A1","x":18,"y":75},{"w":"III","s":"A1","x":19,"y":79},{"w":"III","s":"A1","x":20,"y":76},{"w":"III","s":"A1","x":21,"y":74},{"w":"III","s":"A1","x":22,"y":77},{"w":"III","s":"A1","x":23,"y":78},{"w":"III","s":"A1","x":24,"y":75},{"w":"III","s":"A1","x":25,"y":77},{"w":"III","s":"A1","x":26,"y":79},{"w":"III","s":"A1","x":27,"y":76},{"w":"III","s":"A1","x":28,"y":78},{"w":"III","s":"A1","x":29,"y":80},{"w":"III","s":"A1","x":30,"y":77},{"w":"III","s":"A1","x":31,"y":79},{"w":"III","s":"A1","x":32,"y":81},{"w":"III","s":"A1","x":33,"y":78},{"w":"III","s":"A1","x":34,"y":80},{"w":"III","s":"A1","x":35,"y":82},{"w":"III","s":"A1","x":36,"y":80},
{"w":"III","s":"WT","x":0,"y":17},{"w":"III","s":"WT","x":1,"y":5},{"w":"III","s":"WT","x":2,"y":3},{"w":"III","s":"WT","x":3,"y":-5},{"w":"III","s":"WT","x":4,"y":2},{"w":"III","s":"WT","x":5,"y":6},{"w":"III","s":"WT","x":6,"y":12},{"w":"III","s":"WT","x":7,"y":10},{"w":"III","s":"WT","x":8,"y":55},{"w":"III","s":"WT","x":9,"y":84},{"w":"III","s":"WT","x":10,"y":98},{"w":"III","s":"WT","x":11,"y":104},{"w":"III","s":"WT","x":12,"y":96},{"w":"III","s":"WT","x":13,"y":110},{"w":"III","s":"WT","x":14,"y":94},{"w":"III","s":"WT","x":15,"y":118},{"w":"III","s":"WT","x":16,"y":100},{"w":"III","s":"WT","x":17,"y":92},{"w":"III","s":"WT","x":18,"y":112},{"w":"III","s":"WT","x":19,"y":98},{"w":"III","s":"WT","x":20,"y":120},{"w":"III","s":"WT","x":21,"y":106},{"w":"III","s":"WT","x":22,"y":114},{"w":"III","s":"WT","x":23,"y":96},{"w":"III","s":"WT","x":24,"y":122},{"w":"III","s":"WT","x":25,"y":108},{"w":"III","s":"WT","x":26,"y":102},{"w":"III","s":"WT","x":27,"y":118},{"w":"III","s":"WT","x":28,"y":96},{"w":"III","s":"WT","x":29,"y":112},{"w":"III","s":"WT","x":30,"y":124},{"w":"III","s":"WT","x":31,"y":100},{"w":"III","s":"WT","x":32,"y":116},{"w":"III","s":"WT","x":33,"y":106},{"w":"III","s":"WT","x":34,"y":98},{"w":"III","s":"WT","x":35,"y":114},{"w":"III","s":"WT","x":36,"y":110}],
"ceq":[
{"k":1,"x":0,"y":8},{"k":1,"x":1,"y":5},{"k":1,"x":2,"y":9},{"k":1,"x":3,"y":6},{"k":1,"x":4,"y":15},{"k":1,"x":5,"y":16},{"k":1,"x":6,"y":22},{"k":1,"x":7,"y":22},{"k":1,"x":8,"y":20},{"k":1,"x":9,"y":24},{"k":1,"x":10,"y":23},{"k":1,"x":11,"y":27},{"k":1,"x":12,"y":23},{"k":1,"x":13,"y":27},{"k":1,"x":14,"y":28},{"k":1,"x":15,"y":26},{"k":1,"x":16,"y":29},{"k":1,"x":17,"y":26},{"k":1,"x":18,"y":31},{"k":1,"x":19,"y":28},{"k":1,"x":20,"y":31},{"k":1,"x":21,"y":28},{"k":1,"x":22,"y":32},
{"k":2,"x":0,"y":4},{"k":2,"x":1,"y":7},{"k":2,"x":2,"y":3},{"k":2,"x":3,"y":6},{"k":2,"x":4,"y":9},{"k":2,"x":5,"y":16},{"k":2,"x":6,"y":16},{"k":2,"x":7,"y":20},{"k":2,"x":8,"y":19},{"k":2,"x":9,"y":17},{"k":2,"x":10,"y":22},{"k":2,"x":11,"y":19},{"k":2,"x":12,"y":22},{"k":2,"x":13,"y":19},{"k":2,"x":14,"y":21},{"k":2,"x":15,"y":24},{"k":2,"x":16,"y":21},{"k":2,"x":17,"y":25},{"k":2,"x":18,"y":23},{"k":2,"x":19,"y":26},{"k":2,"x":20,"y":23},{"k":2,"x":21,"y":26},{"k":2,"x":22,"y":25},
{"k":3,"x":0,"y":5},{"k":3,"x":1,"y":2},{"k":3,"x":2,"y":4},{"k":3,"x":3,"y":1},{"k":3,"x":4,"y":10},{"k":3,"x":5,"y":10},{"k":3,"x":6,"y":15},{"k":3,"x":7,"y":12},{"k":3,"x":8,"y":15},{"k":3,"x":9,"y":17},{"k":3,"x":10,"y":15},{"k":3,"x":11,"y":14},{"k":3,"x":12,"y":19},{"k":3,"x":13,"y":18},{"k":3,"x":14,"y":15},{"k":3,"x":15,"y":19},{"k":3,"x":16,"y":20},{"k":3,"x":17,"y":18},{"k":3,"x":18,"y":17},{"k":3,"x":19,"y":21},{"k":3,"x":20,"y":22},{"k":3,"x":21,"y":19},{"k":3,"x":22,"y":22},
{"k":4,"x":0,"y":-1},{"k":4,"x":1,"y":2},{"k":4,"x":2,"y":0},{"k":4,"x":3,"y":3},{"k":4,"x":4,"y":4},{"k":4,"x":5,"y":10},{"k":4,"x":6,"y":7},{"k":4,"x":7,"y":11},{"k":4,"x":8,"y":12},{"k":4,"x":9,"y":10},{"k":4,"x":10,"y":12},{"k":4,"x":11,"y":10},{"k":4,"x":12,"y":13},{"k":4,"x":13,"y":15},{"k":4,"x":14,"y":12},{"k":4,"x":15,"y":11},{"k":4,"x":16,"y":15},{"k":4,"x":17,"y":16},{"k":4,"x":18,"y":13},{"k":4,"x":19,"y":13},{"k":4,"x":20,"y":16},{"k":4,"x":21,"y":15},{"k":4,"x":22,"y":18},
{"k":5,"x":0,"y":0},{"k":5,"x":1,"y":-2},{"k":5,"x":2,"y":1},{"k":5,"x":3,"y":-3},{"k":5,"x":4,"y":4},{"k":5,"x":5,"y":3},{"k":5,"x":6,"y":7},{"k":5,"x":7,"y":9},{"k":5,"x":8,"y":6},{"k":5,"x":9,"y":6},{"k":5,"x":10,"y":10},{"k":5,"x":11,"y":10},{"k":5,"x":12,"y":7},{"k":5,"x":13,"y":8},{"k":5,"x":14,"y":11},{"k":5,"x":15,"y":11},{"k":5,"x":16,"y":8},{"k":5,"x":17,"y":12},{"k":5,"x":18,"y":12},{"k":5,"x":19,"y":10},{"k":5,"x":20,"y":9},{"k":5,"x":21,"y":14},{"k":5,"x":22,"y":11},
{"k":6,"x":0,"y":-4},{"k":6,"x":1,"y":-1},{"k":6,"x":2,"y":-4},{"k":6,"x":3,"y":-2},{"k":6,"x":4,"y":-2},{"k":6,"x":5,"y":3},{"k":6,"x":6,"y":1},{"k":6,"x":7,"y":5},{"k":6,"x":8,"y":6},{"k":6,"x":9,"y":3},{"k":6,"x":10,"y":3},{"k":6,"x":11,"y":7},{"k":6,"x":12,"y":6},{"k":6,"x":13,"y":4},{"k":6,"x":14,"y":7},{"k":6,"x":15,"y":5},{"k":6,"x":16,"y":9},{"k":6,"x":17,"y":5},{"k":6,"x":18,"y":8},{"k":6,"x":19,"y":9},{"k":6,"x":20,"y":6},{"k":6,"x":21,"y":9},{"k":6,"x":22,"y":6},
{"k":7,"x":0,"y":-3},{"k":7,"x":1,"y":-6},{"k":7,"x":2,"y":-4},{"k":7,"x":3,"y":-7},{"k":7,"x":4,"y":-1},{"k":7,"x":5,"y":1},{"k":7,"x":6,"y":-1},{"k":7,"x":7,"y":-2},{"k":7,"x":8,"y":2},{"k":7,"x":9,"y":3},{"k":7,"x":10,"y":0},{"k":7,"x":11,"y":3},{"k":7,"x":12,"y":0},{"k":7,"x":13,"y":4},{"k":7,"x":14,"y":1},{"k":7,"x":15,"y":4},{"k":7,"x":16,"y":1},{"k":7,"x":17,"y":4},{"k":7,"x":18,"y":5},{"k":7,"x":19,"y":2},{"k":7,"x":20,"y":5},{"k":7,"x":21,"y":2},{"k":7,"x":22,"y":5},
{"k":8,"x":0,"y":-7},{"k":8,"x":1,"y":-5},{"k":8,"x":2,"y":-8},{"k":8,"x":3,"y":-4},{"k":8,"x":4,"y":-5},{"k":8,"x":5,"y":-2},{"k":8,"x":6,"y":-1},{"k":8,"x":7,"y":-4},{"k":8,"x":8,"y":-1},{"k":8,"x":9,"y":-3},{"k":8,"x":10,"y":0},{"k":8,"x":11,"y":-3},{"k":8,"x":12,"y":0},{"k":8,"x":13,"y":-3},{"k":8,"x":14,"y":1},{"k":8,"x":15,"y":-2},{"k":8,"x":16,"y":0},{"k":8,"x":17,"y":1},{"k":8,"x":18,"y":-3},{"k":8,"x":19,"y":1},{"k":8,"x":20,"y":-1},{"k":8,"x":21,"y":2},{"k":8,"x":22,"y":-1},
{"k":9,"x":0,"y":-6},{"k":9,"x":1,"y":-9},{"k":9,"x":2,"y":-6},{"k":9,"x":3,"y":-8},{"k":9,"x":4,"y":-5},{"k":9,"x":5,"y":-8},{"k":9,"x":6,"y":-6},{"k":9,"x":7,"y":-9},{"k":9,"x":8,"y":-5},{"k":9,"x":9,"y":-6},{"k":9,"x":10,"y":-8},{"k":9,"x":11,"y":-5},{"k":9,"x":12,"y":-8},{"k":9,"x":13,"y":-5},{"k":9,"x":14,"y":-7},{"k":9,"x":15,"y":-4},{"k":9,"x":16,"y":-7},{"k":9,"x":17,"y":-8},{"k":9,"x":18,"y":-5},{"k":9,"x":19,"y":-4},{"k":9,"x":20,"y":-7},{"k":9,"x":21,"y":-5},{"k":9,"x":22,"y":-8},
{"k":10,"x":0,"y":-9},{"k":10,"x":1,"y":-7},{"k":10,"x":2,"y":-9},{"k":10,"x":3,"y":-6},{"k":10,"x":4,"y":-10},{"k":10,"x":5,"y":-9},{"k":10,"x":6,"y":-12},{"k":10,"x":7,"y":-9},{"k":10,"x":8,"y":-12},{"k":10,"x":9,"y":-9},{"k":10,"x":10,"y":-13},{"k":10,"x":11,"y":-10},{"k":10,"x":12,"y":-12},{"k":10,"x":13,"y":-9},{"k":10,"x":14,"y":-12},{"k":10,"x":15,"y":-13},{"k":10,"x":16,"y":-10},{"k":10,"x":17,"y":-12},{"k":10,"x":18,"y":-10},{"k":10,"x":19,"y":-13},{"k":10,"x":20,"y":-11},{"k":10,"x":21,"y":-14},{"k":10,"x":22,"y":-11}
],
"car":[
{"k":1,"x":0,"y":1},{"k":1,"x":1,"y":-1},{"k":1,"x":2,"y":1},{"k":1,"x":3,"y":6},{"k":1,"x":4,"y":34},{"k":1,"x":5,"y":45},{"k":1,"x":6,"y":46},{"k":1,"x":7,"y":44},{"k":1,"x":8,"y":47},{"k":1,"x":9,"y":45},{"k":1,"x":10,"y":48},{"k":1,"x":11,"y":46},{"k":1,"x":12,"y":44},{"k":1,"x":13,"y":47},{"k":1,"x":14,"y":49},{"k":1,"x":15,"y":46},{"k":1,"x":16,"y":48},{"k":1,"x":17,"y":47},{"k":1,"x":18,"y":50},{"k":1,"x":19,"y":48},{"k":1,"x":20,"y":46},{"k":1,"x":21,"y":49},{"k":1,"x":22,"y":48},
{"k":2,"x":0,"y":-1},{"k":2,"x":1,"y":1},{"k":2,"x":2,"y":0},{"k":2,"x":3,"y":5},{"k":2,"x":4,"y":30},{"k":2,"x":5,"y":43},{"k":2,"x":6,"y":43},{"k":2,"x":7,"y":45},{"k":2,"x":8,"y":42},{"k":2,"x":9,"y":44},{"k":2,"x":10,"y":42},{"k":2,"x":11,"y":45},{"k":2,"x":12,"y":43},{"k":2,"x":13,"y":46},{"k":2,"x":14,"y":43},{"k":2,"x":15,"y":45},{"k":2,"x":16,"y":47},{"k":2,"x":17,"y":44},{"k":2,"x":18,"y":46},{"k":2,"x":19,"y":49},{"k":2,"x":20,"y":47},{"k":2,"x":21,"y":45},{"k":2,"x":22,"y":47},
{"k":3,"x":0,"y":0},{"k":3,"x":1,"y":-1},{"k":3,"x":2,"y":1},{"k":3,"x":3,"y":4},{"k":3,"x":4,"y":33},{"k":3,"x":5,"y":40},{"k":3,"x":6,"y":41},{"k":3,"x":7,"y":39},{"k":3,"x":8,"y":42},{"k":3,"x":9,"y":40},{"k":3,"x":10,"y":43},{"k":3,"x":11,"y":40},{"k":3,"x":12,"y":42},{"k":3,"x":13,"y":39},{"k":3,"x":14,"y":42},{"k":3,"x":15,"y":41},{"k":3,"x":16,"y":40},{"k":3,"x":17,"y":43},{"k":3,"x":18,"y":41},{"k":3,"x":19,"y":44},{"k":3,"x":20,"y":42},{"k":3,"x":21,"y":44},{"k":3,"x":22,"y":43},
{"k":4,"x":0,"y":1},{"k":4,"x":1,"y":0},{"k":4,"x":2,"y":-1},{"k":4,"x":3,"y":4},{"k":4,"x":4,"y":28},{"k":4,"x":5,"y":36},{"k":4,"x":6,"y":38},{"k":4,"x":7,"y":40},{"k":4,"x":8,"y":37},{"k":4,"x":9,"y":39},{"k":4,"x":10,"y":36},{"k":4,"x":11,"y":39},{"k":4,"x":12,"y":38},{"k":4,"x":13,"y":41},{"k":4,"x":14,"y":38},{"k":4,"x":15,"y":37},{"k":4,"x":16,"y":40},{"k":4,"x":17,"y":38},{"k":4,"x":18,"y":41},{"k":4,"x":19,"y":39},{"k":4,"x":20,"y":40},{"k":4,"x":21,"y":42},{"k":4,"x":22,"y":40},
{"k":5,"x":0,"y":-1},{"k":5,"x":1,"y":0},{"k":5,"x":2,"y":1},{"k":5,"x":3,"y":3},{"k":5,"x":4,"y":21},{"k":5,"x":5,"y":25},{"k":5,"x":6,"y":26},{"k":5,"x":7,"y":24},{"k":5,"x":8,"y":27},{"k":5,"x":9,"y":25},{"k":5,"x":10,"y":27},{"k":5,"x":11,"y":24},{"k":5,"x":12,"y":26},{"k":5,"x":13,"y":28},{"k":5,"x":14,"y":25},{"k":5,"x":15,"y":27},{"k":5,"x":16,"y":24},{"k":5,"x":17,"y":26},{"k":5,"x":18,"y":28},{"k":5,"x":19,"y":25},{"k":5,"x":20,"y":27},{"k":5,"x":21,"y":26},{"k":5,"x":22,"y":28},
{"k":6,"x":0,"y":0},{"k":6,"x":1,"y":1},{"k":6,"x":2,"y":-1},{"k":6,"x":3,"y":2},{"k":6,"x":4,"y":17},{"k":6,"x":5,"y":23},{"k":6,"x":6,"y":23},{"k":6,"x":7,"y":25},{"k":6,"x":8,"y":22},{"k":6,"x":9,"y":24},{"k":6,"x":10,"y":22},{"k":6,"x":11,"y":25},{"k":6,"x":12,"y":24},{"k":6,"x":13,"y":21},{"k":6,"x":14,"y":24},{"k":6,"x":15,"y":23},{"k":6,"x":16,"y":26},{"k":6,"x":17,"y":22},{"k":6,"x":18,"y":24},{"k":6,"x":19,"y":22},{"k":6,"x":20,"y":25},{"k":6,"x":21,"y":23},{"k":6,"x":22,"y":24},
{"k":7,"x":0,"y":1},{"k":7,"x":1,"y":-1},{"k":7,"x":2,"y":0},{"k":7,"x":3,"y":2},{"k":7,"x":4,"y":15},{"k":7,"x":5,"y":20},{"k":7,"x":6,"y":21},{"k":7,"x":7,"y":19},{"k":7,"x":8,"y":22},{"k":7,"x":9,"y":20},{"k":7,"x":10,"y":18},{"k":7,"x":11,"y":21},{"k":7,"x":12,"y":20},{"k":7,"x":13,"y":23},{"k":7,"x":14,"y":19},{"k":7,"x":15,"y":21},{"k":7,"x":16,"y":19},{"k":7,"x":17,"y":22},{"k":7,"x":18,"y":20},{"k":7,"x":19,"y":19},{"k":7,"x":20,"y":21},{"k":7,"x":21,"y":20},{"k":7,"x":22,"y":22},
{"k":8,"x":0,"y":-1},{"k":8,"x":1,"y":1},{"k":8,"x":2,"y":1},{"k":8,"x":3,"y":1},{"k":8,"x":4,"y":5},{"k":8,"x":5,"y":6},{"k":8,"x":6,"y":7},{"k":8,"x":7,"y":5},{"k":8,"x":8,"y":6},{"k":8,"x":9,"y":8},{"k":8,"x":10,"y":5},{"k":8,"x":11,"y":7},{"k":8,"x":12,"y":6},{"k":8,"x":13,"y":4},{"k":8,"x":14,"y":7},{"k":8,"x":15,"y":6},{"k":8,"x":16,"y":8},{"k":8,"x":17,"y":5},{"k":8,"x":18,"y":7},{"k":8,"x":19,"y":6},{"k":8,"x":20,"y":8},{"k":8,"x":21,"y":6},{"k":8,"x":22,"y":7},
{"k":9,"x":0,"y":0},{"k":9,"x":1,"y":-1},{"k":9,"x":2,"y":0},{"k":9,"x":3,"y":0},{"k":9,"x":4,"y":3},{"k":9,"x":5,"y":4},{"k":9,"x":6,"y":3},{"k":9,"x":7,"y":5},{"k":9,"x":8,"y":4},{"k":9,"x":9,"y":2},{"k":9,"x":10,"y":4},{"k":9,"x":11,"y":5},{"k":9,"x":12,"y":3},{"k":9,"x":13,"y":5},{"k":9,"x":14,"y":4},{"k":9,"x":15,"y":3},{"k":9,"x":16,"y":5},{"k":9,"x":17,"y":4},{"k":9,"x":18,"y":2},{"k":9,"x":19,"y":4},{"k":9,"x":20,"y":5},{"k":9,"x":21,"y":3},{"k":9,"x":22,"y":4},
{"k":10,"x":0,"y":1},{"k":10,"x":1,"y":0},{"k":10,"x":2,"y":-1},{"k":10,"x":3,"y":0},{"k":10,"x":4,"y":0},{"k":10,"x":5,"y":1},{"k":10,"x":6,"y":-1},{"k":10,"x":7,"y":1},{"k":10,"x":8,"y":0},{"k":10,"x":9,"y":-2},{"k":10,"x":10,"y":1},{"k":10,"x":11,"y":0},{"k":10,"x":12,"y":-1},{"k":10,"x":13,"y":2},{"k":10,"x":14,"y":0},{"k":10,"x":15,"y":-1},{"k":10,"x":16,"y":1},{"k":10,"x":17,"y":0},{"k":10,"x":18,"y":-1},{"k":10,"x":19,"y":1},{"k":10,"x":20,"y":0},{"k":10,"x":21,"y":-2},{"k":10,"x":22,"y":0},
{"k":11,"x":0,"y":-1},{"k":11,"x":1,"y":0},{"k":11,"x":2,"y":1},{"k":11,"x":3,"y":-1},{"k":11,"x":4,"y":-3},{"k":11,"x":5,"y":-4},{"k":11,"x":6,"y":-4},{"k":11,"x":7,"y":-3},{"k":11,"x":8,"y":-5},{"k":11,"x":9,"y":-4},{"k":11,"x":10,"y":-2},{"k":11,"x":11,"y":-4},{"k":11,"x":12,"y":-5},{"k":11,"x":13,"y":-3},{"k":11,"x":14,"y":-4},{"k":11,"x":15,"y":-6},{"k":11,"x":16,"y":-3},{"k":11,"x":17,"y":-4},{"k":11,"x":18,"y":-5},{"k":11,"x":19,"y":-3},{"k":11,"x":20,"y":-4},{"k":11,"x":21,"y":-5},{"k":11,"x":22,"y":-3},
{"k":12,"x":0,"y":0},{"k":12,"x":1,"y":1},{"k":12,"x":2,"y":0},{"k":12,"x":3,"y":-1},{"k":12,"x":4,"y":-6},{"k":12,"x":5,"y":-8},{"k":12,"x":6,"y":-8},{"k":12,"x":7,"y":-9},{"k":12,"x":8,"y":-7},{"k":12,"x":9,"y":-8},{"k":12,"x":10,"y":-10},{"k":12,"x":11,"y":-7},{"k":12,"x":12,"y":-8},{"k":12,"x":13,"y":-9},{"k":12,"x":14,"y":-7},{"k":12,"x":15,"y":-8},{"k":12,"x":16,"y":-6},{"k":12,"x":17,"y":-9},{"k":12,"x":18,"y":-8},{"k":12,"x":19,"y":-10},{"k":12,"x":20,"y":-8},{"k":12,"x":21,"y":-7},{"k":12,"x":22,"y":-9}
],
"eqw":[{"x":-100,"y":-0.14,"y2":-0.114},{"x":-75,"y":-0.032,"y2":-0.032},{"x":50,"y":0.51,"y2":0.38}],
"eqb":[{"n":1,"x":-100,"y":-0.108},{"n":1,"x":50,"y":0.36},{"n":2,"x":-100,"y":-0.102},{"n":2,"x":50,"y":0.33},{"n":3,"x":-100,"y":-0.096},{"n":3,"x":50,"y":0.3},{"n":4,"x":-100,"y":-0.09},{"n":4,"x":50,"y":0.27},{"n":5,"x":-100,"y":-0.08},{"n":5,"x":50,"y":0.22},{"n":6,"x":-100,"y":-0.076},{"n":6,"x":50,"y":0.2},{"n":7,"x":-100,"y":-0.068},{"n":7,"x":50,"y":0.16},{"n":8,"x":-100,"y":-0.062},{"n":8,"x":50,"y":0.13},{"n":9,"x":-100,"y":0.03},{"n":9,"x":50,"y":-0.03}],
"eqs":[{"x":-100,"y":-0.171,"y2":-0.038},{"x":-90,"y":-0.15,"y2":0.05},{"x":-80,"y":-0.127,"y2":0.02},{"x":-70,"y":-0.013,"y2":0.044},{"x":-60,"y":0,"y2":0.107},{"x":-50,"y":-0.07,"y2":0.19},{"x":-40,"y":0.038,"y2":0.228},{"x":-30,"y":0.05,"y2":0.253},{"x":-20,"y":0.076,"y2":0.278},{"x":-10,"y":0.1,"y2":0.354},{"x":0,"y":0.089,"y2":0.367},{"x":10,"y":0.127,"y2":0.443},{"x":20,"y":0.114,"y2":0.405},{"x":30,"y":0.127,"y2":0.468},{"x":40,"y":0.152,"y2":0.513},{"x":50,"y":0.165,"y2":0.557}],
"eql":[{"s":2,"x":-100,"y":0.005},{"s":2,"x":50,"y":0.005},{"s":4,"x":-100,"y":-0.05},{"s":4,"x":50,"y":0.015},{"s":5,"x":-100,"y":-0.035},{"s":5,"x":50,"y":0.1},{"s":9,"x":-100,"y":-0.04},{"s":9,"x":50,"y":0.24},{"s":21,"x":-100,"y":-0.065},{"s":21,"x":50,"y":0.29}],
"eqd":[{"s":2,"x":-80,"y":0.08},{"s":2,"x":-40,"y":-0.04},{"s":2,"x":-30,"y":0.007},{"s":2,"x":-20,"y":-0.008},{"s":2,"x":-10,"y":0.055},{"s":2,"x":0,"y":-0.045},{"s":2,"x":10,"y":-0.035},{"s":2,"x":20,"y":-0.037},{"s":2,"x":30,"y":0.045},{"s":2,"x":40,"y":0.022},{"s":2,"x":50,"y":0.037},
{"s":4,"x":-100,"y":-0.06},{"s":4,"x":-90,"y":-0.065},{"s":4,"x":-80,"y":-0.04},{"s":4,"x":-60,"y":-0.05},{"s":4,"x":-50,"y":-0.045},{"s":4,"x":-40,"y":-0.035},{"s":4,"x":-10,"y":0.02},{"s":4,"x":0,"y":-0.06},{"s":4,"x":10,"y":0.018},{"s":4,"x":20,"y":0.04},{"s":4,"x":30,"y":0},{"s":4,"x":40,"y":-0.057},{"s":4,"x":50,"y":0.015},
{"s":5,"x":-100,"y":-0.01},{"s":5,"x":-90,"y":0.02},{"s":5,"x":-80,"y":-0.025},{"s":5,"x":-60,"y":-0.02},{"s":5,"x":-50,"y":-0.02},{"s":5,"x":-40,"y":0.03},{"s":5,"x":-30,"y":-0.008},{"s":5,"x":-20,"y":0.012},{"s":5,"x":-10,"y":0.02},{"s":5,"x":0,"y":0.073},{"s":5,"x":10,"y":-0.015},{"s":5,"x":20,"y":0.12},{"s":5,"x":30,"y":0.015},{"s":5,"x":40,"y":0.122},{"s":5,"x":50,"y":0.15},
{"s":9,"x":-100,"y":-0.055},{"s":9,"x":-90,"y":-0.06},{"s":9,"x":-80,"y":0.035},{"s":9,"x":-60,"y":0.025},{"s":9,"x":-50,"y":0.065},{"s":9,"x":-40,"y":0.085},{"s":9,"x":-30,"y":0.1},{"s":9,"x":-20,"y":0.145},{"s":9,"x":-10,"y":0.17},{"s":9,"x":0,"y":0.15},{"s":9,"x":10,"y":0.155},{"s":9,"x":20,"y":0.155},{"s":9,"x":30,"y":0.205},{"s":9,"x":40,"y":0.25},{"s":9,"x":50,"y":0.195},
{"s":21,"x":-100,"y":-0.06},{"s":21,"x":-90,"y":-0.08},{"s":21,"x":-80,"y":0},{"s":21,"x":-60,"y":0.03},{"s":21,"x":-50,"y":0.06},{"s":21,"x":-40,"y":0.09},{"s":21,"x":-30,"y":0.1},{"s":21,"x":-20,"y":0.14},{"s":21,"x":-10,"y":0.16},{"s":21,"x":0,"y":0.18},{"s":21,"x":10,"y":0.235},{"s":21,"x":20,"y":0.225},{"s":21,"x":30,"y":0.25},{"s":21,"x":40,"y":0.27},{"s":21,"x":50,"y":0.255}],
"arw":[{"x":-100,"y":-0.1,"y2":-0.0725},{"x":-90,"y":-0.033,"y2":-0.033},{"x":50,"y":0.9,"y2":0.52}],
"ars":[{"x":-100,"y":-0.18,"y2":-0.02},{"x":-90,"y":-0.154,"y2":-0.044},{"x":-80,"y":0.02,"y2":0.1},{"x":-70,"y":0.02,"y2":0.05},{"x":-60,"y":0.05,"y2":0.08},{"x":-50,"y":0.187,"y2":0.374},{"x":-40,"y":0.22,"y2":0.49},{"x":-30,"y":0.22,"y2":0.49},{"x":-20,"y":0.22,"y2":0.27},{"x":-10,"y":0.46,"y2":0.79},{"x":0,"y":0.57,"y2":0.74},{"x":10,"y":0.62,"y2":0.74},{"x":20,"y":0.7,"y2":0.79},{"x":30,"y":0.62,"y2":0.72},{"x":40,"y":0.65,"y2":0.85},{"x":50,"y":0.7,"y2":0.9}],
"arl":[{"s":3,"x":-100,"y":-0.025},{"s":3,"x":50,"y":-0.02},{"s":2,"x":-100,"y":-0.01},{"s":2,"x":50,"y":0.015},{"s":4,"x":-100,"y":-0.03},{"s":4,"x":50,"y":0.04},{"s":5,"x":-100,"y":-0.05},{"s":5,"x":50,"y":0.28},{"s":9,"x":-100,"y":-0.075},{"s":9,"x":50,"y":0.48},{"s":21,"x":-100,"y":-0.07},{"s":21,"x":50,"y":0.5}],
"ard":[{"s":21,"x":-100,"y":-0.09},{"s":21,"x":-90,"y":0},{"s":21,"x":-60,"y":0.07},{"s":21,"x":-50,"y":0.23},{"s":21,"x":-40,"y":0.21},{"s":21,"x":-30,"y":0.24},{"s":21,"x":-20,"y":0.22},{"s":21,"x":-10,"y":0.43},{"s":21,"x":0,"y":0.37},{"s":21,"x":10,"y":0.33},{"s":21,"x":20,"y":0.39},{"s":21,"x":30,"y":0.38},{"s":21,"x":40,"y":0.4},{"s":21,"x":50,"y":0.48},
{"s":9,"x":-100,"y":-0.1},{"s":9,"x":-90,"y":-0.07},{"s":9,"x":-50,"y":0.16},{"s":9,"x":-40,"y":0.2},{"s":9,"x":-30,"y":0.23},{"s":9,"x":-10,"y":0.32},{"s":9,"x":0,"y":0.33},{"s":9,"x":10,"y":0.41},{"s":9,"x":20,"y":0.4},{"s":9,"x":30,"y":0.42},{"s":9,"x":40,"y":0.42},{"s":9,"x":50,"y":0.44},
{"s":5,"x":-100,"y":-0.05},{"s":5,"x":-90,"y":-0.05},{"s":5,"x":-80,"y":0.01},{"s":5,"x":-70,"y":0.02},{"s":5,"x":-50,"y":0.06},{"s":5,"x":-40,"y":0.16},{"s":5,"x":-30,"y":0.1},{"s":5,"x":-20,"y":0.07},{"s":5,"x":-10,"y":0.26},{"s":5,"x":0,"y":0.17},{"s":5,"x":10,"y":0.065},{"s":5,"x":20,"y":0.31},{"s":5,"x":30,"y":0.16},{"s":5,"x":40,"y":0.22},{"s":5,"x":50,"y":0.36},
{"s":4,"x":-80,"y":-0.03},{"s":4,"x":-60,"y":-0.03},{"s":4,"x":-50,"y":0},{"s":4,"x":-40,"y":0.01},{"s":4,"x":-30,"y":0.01},{"s":4,"x":-20,"y":0},{"s":4,"x":-10,"y":0.075},{"s":4,"x":0,"y":0.04},{"s":4,"x":10,"y":-0.03},{"s":4,"x":20,"y":0.07},{"s":4,"x":30,"y":-0.02},{"s":4,"x":40,"y":0},{"s":4,"x":50,"y":0.04},
{"s":2,"x":-100,"y":-0.01},{"s":2,"x":-90,"y":0},{"s":2,"x":-60,"y":0},{"s":2,"x":-40,"y":0},{"s":2,"x":-20,"y":0},{"s":2,"x":0,"y":-0.01},{"s":2,"x":10,"y":0},{"s":2,"x":20,"y":0.02},{"s":2,"x":30,"y":-0.01},{"s":2,"x":40,"y":0.02},{"s":2,"x":50,"y":0.01}],
"dtr":[
{"series":"Archer1","x":0,"y":-0.01},{"series":"Archer1","x":6,"y":0.658},{"series":"Archer1","x":15,"y":0.68},{"series":"Archer1","x":25,"y":0.694},{"series":"Archer1","x":33,"y":0.705},{"series":"Archer1","x":45,"y":0.71},{"series":"Archer1","x":60,"y":0.72},{"series":"Archer1","x":75,"y":0.726},{"series":"Archer1","x":90,"y":0.738},{"series":"Archer1","x":105,"y":0.742},{"series":"Archer1","x":123,"y":0.753},{"series":"Archer1","x":140,"y":0.756},{"series":"Archer1","x":157,"y":0.77},{"series":"Archer1","x":174,"y":0.772},{"series":"Archer1","x":195,"y":0.782},{"series":"Archer1","x":215,"y":0.779},{"series":"Archer1","x":235,"y":0.791},{"series":"Archer1","x":255,"y":0.787},{"series":"Archer1","x":273,"y":0.797},{"series":"Archer1","x":295,"y":0.793},{"series":"Archer1","x":315,"y":0.803},{"series":"Archer1","x":335,"y":0.798},{"series":"Archer1","x":355,"y":0.807},{"series":"Archer1","x":375,"y":0.802},{"series":"Archer1","x":395,"y":0.811},{"series":"Archer1","x":415,"y":0.805},{"series":"Archer1","x":435,"y":0.813},{"series":"Archer1","x":455,"y":0.807},{"series":"Archer1","x":475,"y":0.815},{"series":"Archer1","x":495,"y":0.808},{"series":"Archer1","x":515,"y":0.816},{"series":"Archer1","x":535,"y":0.809},{"series":"Archer1","x":555,"y":0.815},{"series":"Archer1","x":575,"y":0.808},{"series":"Archer1","x":595,"y":0.817},{"series":"Archer1","x":615,"y":0.81},{"series":"Archer1","x":635,"y":0.818},{"series":"Archer1","x":655,"y":0.811},{"series":"Archer1","x":675,"y":0.82},{"series":"Archer1","x":700,"y":0.812},{"series":"Archer1","x":725,"y":0.821},{"series":"Archer1","x":750,"y":0.813},{"series":"Archer1","x":775,"y":0.82},{"series":"Archer1","x":800,"y":0.812},{"series":"Archer1","x":825,"y":0.821},{"series":"Archer1","x":850,"y":0.813},{"series":"Archer1","x":875,"y":0.819},{"series":"Archer1","x":900,"y":0.812},{"series":"Archer1","x":925,"y":0.82},{"series":"Archer1","x":948,"y":0.814},
{"series":"Archer2","x":0,"y":-0.012},{"series":"Archer2","x":9,"y":0.368},{"series":"Archer2","x":20,"y":0.358},{"series":"Archer2","x":33,"y":0.35},{"series":"Archer2","x":45,"y":0.366},{"series":"Archer2","x":60,"y":0.372},{"series":"Archer2","x":75,"y":0.384},{"series":"Archer2","x":90,"y":0.39},{"series":"Archer2","x":105,"y":0.41},{"series":"Archer2","x":123,"y":0.425},{"series":"Archer2","x":140,"y":0.448},{"series":"Archer2","x":157,"y":0.452},{"series":"Archer2","x":174,"y":0.474},{"series":"Archer2","x":195,"y":0.478},{"series":"Archer2","x":215,"y":0.506},{"series":"Archer2","x":235,"y":0.502},{"series":"Archer2","x":255,"y":0.528},{"series":"Archer2","x":273,"y":0.53},{"series":"Archer2","x":295,"y":0.552},{"series":"Archer2","x":315,"y":0.545},{"series":"Archer2","x":335,"y":0.57},{"series":"Archer2","x":355,"y":0.562},{"series":"Archer2","x":375,"y":0.584},{"series":"Archer2","x":395,"y":0.574},{"series":"Archer2","x":415,"y":0.593},{"series":"Archer2","x":435,"y":0.58},{"series":"Archer2","x":455,"y":0.598},{"series":"Archer2","x":475,"y":0.586},{"series":"Archer2","x":495,"y":0.603},{"series":"Archer2","x":515,"y":0.589},{"series":"Archer2","x":535,"y":0.604},{"series":"Archer2","x":555,"y":0.59},{"series":"Archer2","x":575,"y":0.606},{"series":"Archer2","x":595,"y":0.592},{"series":"Archer2","x":615,"y":0.61},{"series":"Archer2","x":635,"y":0.594},{"series":"Archer2","x":655,"y":0.612},{"series":"Archer2","x":675,"y":0.596},{"series":"Archer2","x":700,"y":0.614},{"series":"Archer2","x":725,"y":0.6},{"series":"Archer2","x":750,"y":0.609},{"series":"Archer2","x":775,"y":0.593},{"series":"Archer2","x":800,"y":0.608},{"series":"Archer2","x":825,"y":0.592},{"series":"Archer2","x":850,"y":0.606},{"series":"Archer2","x":875,"y":0.591},{"series":"Archer2","x":900,"y":0.604},{"series":"Archer2","x":925,"y":0.59},{"series":"Archer2","x":948,"y":0.598},
{"series":"Arch EEQ","x":0,"y":-0.016},{"series":"Arch EEQ","x":15,"y":0.195},{"series":"Arch EEQ","x":25,"y":0.22},{"series":"Arch EEQ","x":33,"y":0.226},{"series":"Arch EEQ","x":45,"y":0.248},{"series":"Arch EEQ","x":60,"y":0.24},{"series":"Arch EEQ","x":75,"y":0.27},{"series":"Arch EEQ","x":90,"y":0.262},{"series":"Arch EEQ","x":105,"y":0.295},{"series":"Arch EEQ","x":123,"y":0.288},{"series":"Arch EEQ","x":140,"y":0.318},{"series":"Arch EEQ","x":157,"y":0.3},{"series":"Arch EEQ","x":174,"y":0.335},{"series":"Arch EEQ","x":195,"y":0.316},{"series":"Arch EEQ","x":215,"y":0.345},{"series":"Arch EEQ","x":235,"y":0.322},{"series":"Arch EEQ","x":255,"y":0.35},{"series":"Arch EEQ","x":273,"y":0.328},{"series":"Arch EEQ","x":295,"y":0.356},{"series":"Arch EEQ","x":315,"y":0.33},{"series":"Arch EEQ","x":335,"y":0.36},{"series":"Arch EEQ","x":355,"y":0.335},{"series":"Arch EEQ","x":375,"y":0.365},{"series":"Arch EEQ","x":395,"y":0.336},{"series":"Arch EEQ","x":415,"y":0.368},{"series":"Arch EEQ","x":435,"y":0.34},{"series":"Arch EEQ","x":455,"y":0.37},{"series":"Arch EEQ","x":475,"y":0.338},{"series":"Arch EEQ","x":495,"y":0.372},{"series":"Arch EEQ","x":515,"y":0.344},{"series":"Arch EEQ","x":535,"y":0.375},{"series":"Arch EEQ","x":555,"y":0.348},{"series":"Arch EEQ","x":575,"y":0.38},{"series":"Arch EEQ","x":595,"y":0.35},{"series":"Arch EEQ","x":615,"y":0.386},{"series":"Arch EEQ","x":635,"y":0.355},{"series":"Arch EEQ","x":655,"y":0.39},{"series":"Arch EEQ","x":675,"y":0.36},{"series":"Arch EEQ","x":700,"y":0.395},{"series":"Arch EEQ","x":725,"y":0.362},{"series":"Arch EEQ","x":750,"y":0.392},{"series":"Arch EEQ","x":775,"y":0.364},{"series":"Arch EEQ","x":800,"y":0.394},{"series":"Arch EEQ","x":825,"y":0.36},{"series":"Arch EEQ","x":850,"y":0.39},{"series":"Arch EEQ","x":875,"y":0.365},{"series":"Arch EEQ","x":900,"y":0.392},{"series":"Arch EEQ","x":925,"y":0.366},{"series":"Arch EEQ","x":948,"y":0.384}],
"dzm":[
{"series":"Arch EEQ","x":2,"y":0.056},{"series":"Arch EEQ","x":3,"y":0.018},{"series":"Arch EEQ","x":4,"y":0.082},{"series":"Arch EEQ","x":5,"y":0.128},{"series":"Arch EEQ","x":6,"y":0.175},{"series":"Arch EEQ","x":7,"y":0.214},{"series":"Arch EEQ","x":8,"y":0.207},{"series":"Arch EEQ","x":9,"y":0.219},{"series":"Arch EEQ","x":10,"y":0.268},{"series":"Arch EEQ","x":11,"y":0.26},{"series":"Arch EEQ","x":12,"y":0.233},{"series":"Arch EEQ","x":13,"y":0.254},{"series":"Arch EEQ","x":14,"y":0.246},{"series":"Arch EEQ","x":15,"y":0.258},{"series":"Arch EEQ","x":16,"y":0.258},{"series":"Arch EEQ","x":17,"y":0.26},{"series":"Arch EEQ","x":18,"y":0.254},{"series":"Arch EEQ","x":19,"y":0.307},{"series":"Arch EEQ","x":20,"y":0.284},{"series":"Arch EEQ","x":21,"y":0.272},{"series":"Arch EEQ","x":22,"y":0.263},
{"series":"Archer2","x":2,"y":0.061},{"series":"Archer2","x":3,"y":0.049},{"series":"Archer2","x":4,"y":0.096},{"series":"Archer2","x":5,"y":0.254},{"series":"Archer2","x":6,"y":0.395},{"series":"Archer2","x":7,"y":0.395},{"series":"Archer2","x":8,"y":0.404},{"series":"Archer2","x":9,"y":0.409},{"series":"Archer2","x":10,"y":0.386},{"series":"Archer2","x":11,"y":0.404},{"series":"Archer2","x":12,"y":0.412},{"series":"Archer2","x":13,"y":0.404},{"series":"Archer2","x":14,"y":0.381},{"series":"Archer2","x":15,"y":0.404},{"series":"Archer2","x":16,"y":0.398},{"series":"Archer2","x":17,"y":0.386},{"series":"Archer2","x":18,"y":0.426},{"series":"Archer2","x":19,"y":0.377},{"series":"Archer2","x":20,"y":0.389},{"series":"Archer2","x":21,"y":0.389},{"series":"Archer2","x":22,"y":0.4},
{"series":"Archer1","x":2,"y":0.044},{"series":"Archer1","x":3,"y":0.053},{"series":"Archer1","x":4,"y":0.167},{"series":"Archer1","x":5,"y":0.544},{"series":"Archer1","x":6,"y":0.707},{"series":"Archer1","x":7,"y":0.709},{"series":"Archer1","x":8,"y":0.709},{"series":"Archer1","x":9,"y":0.714},{"series":"Archer1","x":10,"y":0.716},{"series":"Archer1","x":11,"y":0.716},{"series":"Archer1","x":12,"y":0.723},{"series":"Archer1","x":13,"y":0.737},{"series":"Archer1","x":14,"y":0.728},{"series":"Archer1","x":15,"y":0.749},{"series":"Archer1","x":16,"y":0.742},{"series":"Archer1","x":17,"y":0.749},{"series":"Archer1","x":18,"y":0.737},{"series":"Archer1","x":19,"y":0.749},{"series":"Archer1","x":20,"y":0.754},{"series":"Archer1","x":21,"y":0.749},{"series":"Archer1","x":22,"y":0.751}]
},
"spacing":28,
"resolve":{"scale":{"color":"independent"},"legend":{"color":"independent"}},
"hconcat":[
{"vconcat":[
 {"width":298,"height":187,
  "encoding":{"x":{"field":"x","type":"quantitative","scale":{"domain":[12.7,2026],"nice":false,"zero":false},"axis":null},"y":{"field":"y","type":"quantitative","scale":{"domain":[-33.6,136.4],"nice":false,"zero":false},"axis":null}},
  "layer":[
   {"data":{"name":"a1"},"mark":{"type":"line","color":"#000","strokeWidth":2.5},"encoding":{"detail":{"field":"k"}}},
   {"data":{"values":[{"x":-41,"x2":67,"y":-15.45,"y2":95.5}]},"mark":{"type":"rect","filled":false,"stroke":"#f7931e","strokeWidth":3},"encoding":{"x2":{"field":"x2"},"y2":{"field":"y2"}}},
   {"data":{"values":[{"x":1080,"x2":1851,"y":-13.6,"y2":113.6}]},"mark":{"type":"rect","filled":false,"stroke":"#c9b8dd","strokeWidth":3.5},"encoding":{"x2":{"field":"x2"},"y2":{"field":"y2"}}},
   {"data":{"values":[{"x":-41,"y":-15.45,"x2":-224,"y2":-32.3},{"x":67,"y":-15.45,"x2":2026,"y2":-32.3}]},"mark":{"type":"rule","color":"#f7931e","strokeWidth":3},"encoding":{"x2":{"field":"x2"},"y2":{"field":"y2"}}},
   {"data":{"values":[{"x":-136,"y":106.4,"x2":364,"y2":106.4},{"x":-136,"y":106.4,"x2":-136,"y2":56.4}]},"mark":{"type":"rule","color":"#000","strokeWidth":1},"encoding":{"x2":{"field":"x2"},"y2":{"field":"y2"}}},
   {"data":{"values":[{"x":114,"y":111.5,"label":"500 ms"}]},"mark":{"type":"text","fontSize":11,"baseline":"middle"},"encoding":{"text":{"field":"label"}}},
   {"data":{"values":[{"x":-210,"y":81.8,"label":"50% ΔF/F"}]},"mark":{"type":"text","fontSize":11,"angle":270,"baseline":"middle"},"encoding":{"text":{"field":"label"}}},
   {"data":{"values":[{"x":-372,"y":121,"label":"a"}]},"mark":{"type":"text","fontSize":19,"align":"left","baseline":"alphabetic"},"encoding":{"text":{"field":"label"}}}
  ]},
 {"width":298,"height":168,
  "encoding":{"x":{"field":"x","type":"quantitative","scale":{"domain":[0.738,22.73],"nice":false,"zero":false},"axis":null},"y":{"field":"y","type":"quantitative","scale":{"domain":[-29.41,94.12],"nice":false,"zero":false},"axis":null}},
  "layer":[
   {"data":{"values":[{"x":-1.845,"x2":22.73,"y":-29.41,"y2":94.12}]},"mark":{"type":"rect","filled":false,"stroke":"#f7931e","strokeWidth":3},"encoding":{"x2":{"field":"x2"},"y2":{"field":"y2"}}},
   {"data":{"name":"a2"},"mark":{"type":"line","color":"#000","strokeWidth":1},"encoding":{"detail":{"field":"k"}}},
   {"data":{"name":"a2"},"mark":{"type":"circle","size":55,"opacity":1},"encoding":{"color":{"condition":[{"test":"datum.x==2","value":"#ec1c24"},{"test":"datum.x==4","value":"#f4e31c"},{"test":"datum.x==5","value":"#6ab744"},{"test":"datum.x==9","value":"#6dcde5"},{"test":"datum.x==21","value":"#3c58a8"}],"value":"#000"}}},
   {"data":{"values":[{"x":-0.74,"y":29.4,"x2":-0.74,"y2":-20.6},{"x":-0.74,"y":-20.6,"x2":4.29,"y2":-20.6}]},"mark":{"type":"rule","color":"#000","strokeWidth":1},"encoding":{"x2":{"field":"x2"},"y2":{"field":"y2"}}},
   {"data":{"values":[{"x":2.88,"y":84.6,"label":"Step 1"},{"x":0.85,"y":56.6,"label":"Archer1"}]},"mark":{"type":"text","fontSize":14,"baseline":"middle"},"encoding":{"text":{"field":"label"}}},
   {"data":{"values":[{"x":1.63,"y":-25,"label":"10 ms"}]},"mark":{"type":"text","fontSize":11,"baseline":"middle"},"encoding":{"text":{"field":"label"}}},
   {"data":{"values":[{"x":-1.25,"y":11,"label":"50% ΔF/F"}]},"mark":{"type":"text","fontSize":11,"angle":270,"baseline":"middle"},"encoding":{"text":{"field":"label"}}}
  ]},
 {"width":277,"height":216,
  "encoding":{"x":{"field":"x","type":"quantitative","scale":{"domain":[-100,50],"nice":false,"zero":false},"axis":{"values":[-100,-50,0,50],"title":"Membrane Voltage (mV)","titlePadding":1}},"y":{"field":"y","type":"quantitative","scale":{"domain":[-0.4,1.2],"nice":false,"zero":false},"axis":{"values":[-0.4,-0.2,0,0.2,0.4,0.6,0.8,1,1.2],"format":"~g","title":"% ΔF/F","titlePadding":0}}},
  "layer":[
   {"data":{"values":[{"x":-100,"x2":-96,"y":1.304}]},"mark":{"type":"rule","color":"#fff","strokeWidth":1},"encoding":{"x2":{"field":"x2"}}},
   {"data":{"name":"a3w"},"mark":{"type":"area","color":"#000","opacity":1},"encoding":{"y2":{"field":"y2"}}},
   {"data":{"name":"a3s"},"mark":{"type":"rule","color":"#000","strokeWidth":2.5},"encoding":{"y2":{"field":"y2"}}},
   {"data":{"name":"a3l"},"mark":{"type":"line","strokeWidth":1.5},"encoding":{"detail":{"field":"s"},"color":{"condition":[{"test":"datum.s==2","value":"#ec1c24"},{"test":"datum.s==4","value":"#f4e31c"},{"test":"datum.s==5","value":"#6ab744"},{"test":"datum.s==9","value":"#6dcde5"},{"test":"datum.s==21","value":"#3c58a8"}],"value":"#333"}}},
   {"data":{"name":"a3d"},"mark":{"type":"circle","size":14,"opacity":1},"encoding":{"color":{"condition":[{"test":"datum.s==2","value":"#ec1c24"},{"test":"datum.s==4","value":"#f4e31c"},{"test":"datum.s==5","value":"#6ab744"},{"test":"datum.s==9","value":"#6dcde5"},{"test":"datum.s==21","value":"#3c58a8"}],"value":"#000"}}},
   {"data":{"values":[{"x":52.7,"y":1.178,"x2":59.7,"y2":1.178},{"x":59.7,"y":1.178,"x2":59.7,"y2":1.03},{"x":52.7,"y":1.03,"x2":59.7,"y2":1.03}]},"mark":{"type":"rule","color":"#c9b8dd","strokeWidth":4},"encoding":{"x2":{"field":"x2"},"y2":{"field":"y2"}}},
   {"data":{"values":[{"x":54.3,"y":0.956,"x2":61.4,"y2":0.956},{"x":61.4,"y":0.956,"x2":61.4,"y2":-0.037},{"x":54.3,"y":-0.037,"x2":61.4,"y2":-0.037}]},"mark":{"type":"rule","color":"#f7931e","strokeWidth":3.5},"encoding":{"x2":{"field":"x2"},"y2":{"field":"y2"}}},
   {"data":{"values":[{"x":-95.7,"y":1.2,"label":"Step 2"}]},"mark":{"type":"text","fontSize":14,"align":"left","baseline":"middle"},"encoding":{"text":{"field":"label"}}}
  ]},
 {"width":298,"height":208,
  "encoding":{"x":{"field":"x","type":"quantitative","scale":{"domain":[2.852,22.39],"nice":false,"zero":false},"axis":null},"y":{"field":"y","type":"quantitative","scale":{"domain":[-0.0927,0.922],"nice":false,"zero":false},"axis":null}},
  "layer":[
   {"data":{"name":"a4"},"mark":{"type":"line","color":"#000","strokeWidth":1.5}},
   {"data":{"name":"a4"},"mark":{"type":"circle","size":100,"opacity":1},"encoding":{"color":{"condition":[{"test":"datum.x==2","value":"#ec1c24"},{"test":"datum.x==4","value":"#f4e31c"},{"test":"datum.x==5","value":"#6ab744"},{"test":"datum.x==9","value":"#6dcde5"},{"test":"datum.x==21","value":"#3c58a8"}],"value":"#000"}}},
   {"data":{"values":[{"x":1.475,"y":0.156,"x2":1.475,"y2":-0.044},{"x":1.475,"y":-0.044,"x2":5.935,"y2":-0.044},{"x":14.68,"y":0.605,"x2":14.68,"y2":0.459},{"x":14.68,"y":0.605,"x2":18.9,"y2":0.605},{"x":14.68,"y":0.355,"x2":14.68,"y2":0.257},{"x":14.68,"y":0.355,"x2":18.9,"y2":0.355},{"x":14.68,"y":0.123,"x2":14.68,"y2":0.091},{"x":14.68,"y":0.123,"x2":18.9,"y2":0.123}]},"mark":{"type":"rule","color":"#222","strokeWidth":1.3},"encoding":{"x2":{"field":"x2"},"y2":{"field":"y2"}}},
   {"data":{"values":[{"s":5,"x":13.98,"y":0.454,"x2":19.77,"y2":0.624},{"s":4,"x":13.87,"y":0.254,"x2":19.78,"y2":0.368},{"s":2,"x":13.77,"y":0.099,"x2":19.99,"y2":0.119}]},"mark":{"type":"rule","strokeWidth":2},"encoding":{"x2":{"field":"x2"},"y2":{"field":"y2"},"color":{"condition":[{"test":"datum.s==2","value":"#ec1c24"},{"test":"datum.s==4","value":"#f4e31c"}],"value":"#6ab744"}}},
   {"data":{"values":[{"s":5,"x":15.18,"y":0.506},{"s":5,"x":17.33,"y":0.538},{"s":5,"x":18.97,"y":0.608},{"s":4,"x":15.19,"y":0.294},{"s":4,"x":17.38,"y":0.299},{"s":4,"x":18.97,"y":0.376},{"s":2,"x":15.19,"y":0.091},{"s":2,"x":17.65,"y":0.119}]},"mark":{"type":"circle","size":30,"opacity":1},"encoding":{"color":{"condition":[{"test":"datum.s==2","value":"#ec1c24"},{"test":"datum.s==4","value":"#f4e31c"}],"value":"#6ab744"}}},
   {"data":{"values":[{"x":16.72,"y":0.632,"label":"ΔV"},{"x":16.72,"y":0.384,"label":"ΔV"},{"x":16.72,"y":0.184,"label":"ΔV"}]},"mark":{"type":"text","fontSize":12,"baseline":"middle"},"encoding":{"text":{"field":"label"}}},
   {"data":{"values":[{"x":14.11,"y":0.532,"label":"%ΔF/F"},{"x":14.11,"y":0.31,"label":"%ΔF/F"},{"x":14.11,"y":0.11,"label":"%ΔF/F"}]},"mark":{"type":"text","fontSize":11,"angle":270,"baseline":"middle"},"encoding":{"text":{"field":"label"}}},
   {"data":{"values":[{"x":4.75,"y":0.86,"label":"Step 3"}]},"mark":{"type":"text","fontSize":14,"baseline":"middle"},"encoding":{"text":{"field":"label"}}},
   {"data":{"values":[{"x":3.375,"y":-0.068,"label":"10 ms"}]},"mark":{"type":"text","fontSize":11,"baseline":"middle"},"encoding":{"text":{"field":"label"}}},
   {"data":{"values":[{"x":1.015,"y":0.132,"label":"0.2% ΔF/F / ΔV"}]},"mark":{"type":"text","fontSize":11,"angle":270,"baseline":"middle"},"encoding":{"text":{"field":"label"}}}
  ]}
],"spacing":0},
{"vconcat":[
 {"hconcat":[
  {"width":202,"height":190,
   "encoding":{"x":{"field":"x","type":"quantitative","scale":{"domain":[53.3,951.1],"nice":false,"zero":false},"axis":null},"y":{"field":"y","type":"quantitative","scale":{"domain":[-22.96,132.8],"nice":false,"zero":false},"axis":null}},
   "layer":[
    {"data":{"name":"btr"},"mark":{"type":"line","strokeWidth":2},"encoding":{"color":{"field":"series","type":"nominal","scale":{"domain":["Archer1","Arch WT"],"range":["#f37d7d","#000"]},"legend":{"orient":"none","legendX":-1,"legendY":6.5,"direction":"horizontal","title":null,"symbolType":"stroke","symbolSize":1225,"symbolStrokeWidth":4,"labelFontSize":11,"labelFontWeight":"bold","labelFont":"Liberation Sans","labelColor":"#000","columnPadding":18,"labelOffset":3}}}},
    {"data":{"values":[{"x":49,"y":98,"y2":-13},{"x":98,"y":98,"y2":-13},{"x":204,"y":98,"y2":-13},{"x":520,"y":98,"y2":-13},{"x":938,"y":98,"y2":-13}]},"mark":{"type":"rule","color":"#444","strokeWidth":0.8,"strokeDash":[2,2]},"encoding":{"y2":{"field":"y2"}}},
    {"data":{"values":[{"x":-27,"y":41,"x2":-27,"y2":-9},{"x":-27,"y":-9,"x2":173,"y2":-9}]},"mark":{"type":"rule","color":"#000","strokeWidth":1},"encoding":{"x2":{"field":"x2"},"y2":{"field":"y2"}}},
    {"data":{"values":[{"x":71,"y":101,"label":"I"},{"x":151,"y":101,"label":"II"},{"x":729,"y":101,"label":"III"},{"x":84,"y":-16.4,"label":"200 ms"}]},"mark":{"type":"text","fontSize":11,"baseline":"middle"},"encoding":{"text":{"field":"label"}}},
    {"data":{"values":[{"x":-58,"y":16.4,"label":"50 ΔF"}]},"mark":{"type":"text","fontSize":11,"angle":270,"baseline":"middle"},"encoding":{"text":{"field":"label"}}},
    {"data":{"values":[{"x":-168.5,"y":118.9,"label":"b"}]},"mark":{"type":"text","fontSize":19,"align":"left","baseline":"alphabetic"},"encoding":{"text":{"field":"label"}}}
   ]},
  {"width":142,"height":190,
   "encoding":{"x":{"field":"x","type":"quantitative","scale":{"domain":[-6.875,37.5],"nice":false,"zero":false},"axis":null},"y":{"field":"y","type":"quantitative","scale":{"domain":[-30.6,163.3],"nice":false,"zero":false},"axis":null}},
   "layer":[
    {"data":{"name":"bin"},"transform":[{"filter":"datum.w=='I' && datum.s=='WT'"}],"mark":{"type":"line","color":"#000","strokeWidth":1.5}},
    {"data":{"name":"bin"},"transform":[{"filter":"datum.w=='I' && datum.s=='WT'"}],"mark":{"type":"circle","color":"#000","size":30,"opacity":1}},
    {"data":{"name":"bin"},"transform":[{"filter":"datum.w=='I' && datum.s=='A1'"}],"mark":{"type":"line","color":"#f37d7d","strokeWidth":1.5}},
    {"data":{"name":"bin"},"transform":[{"filter":"datum.w=='I' && datum.s=='A1'"}],"mark":{"type":"circle","color":"#f37d7d","size":26,"opacity":1}},
    {"data":{"values":[{"x":-2.2,"y":36.7,"x2":-2.2,"y2":-13.3},{"x":-2.2,"y":-13.3,"x2":7.8,"y2":-13.3}]},"mark":{"type":"rule","color":"#000","strokeWidth":1},"encoding":{"x2":{"field":"x2"},"y2":{"field":"y2"}}},
    {"data":{"values":[{"x":0.5,"y":120.4,"label":"I"},{"x":2.5,"y":-21,"label":"10 ms"}]},"mark":{"type":"text","fontSize":11,"baseline":"middle"},"encoding":{"text":{"field":"label"}}},
    {"data":{"values":[{"x":-4.1,"y":14,"label":"50% ΔF/ΔFₘₐₓ"}]},"mark":{"type":"text","fontSize":10.5,"angle":270,"baseline":"middle"},"encoding":{"text":{"field":"label"}}}
   ]},
  {"width":115,"height":190,
   "encoding":{"x":{"field":"x","type":"quantitative","scale":{"domain":[-1,35],"nice":false,"zero":false},"axis":null},"y":{"field":"y","type":"quantitative","scale":{"domain":[-30.6,163.3],"nice":false,"zero":false},"axis":null}},
   "layer":[
    {"data":{"name":"bin"},"transform":[{"filter":"datum.w=='II' && datum.s=='WT'"}],"mark":{"type":"line","color":"#000","strokeWidth":1.5}},
    {"data":{"name":"bin"},"transform":[{"filter":"datum.w=='II' && datum.s=='WT'"}],"mark":{"type":"circle","color":"#000","size":30,"opacity":1}},
    {"data":{"name":"bin"},"transform":[{"filter":"datum.w=='II' && datum.s=='A1'"}],"mark":{"type":"line","color":"#f37d7d","strokeWidth":1.5}},
    {"data":{"name":"bin"},"transform":[{"filter":"datum.w=='II' && datum.s=='A1'"}],"mark":{"type":"circle","color":"#f37d7d","size":26,"opacity":1}},
    {"data":{"values":[{"x":2.8,"y":120.4,"label":"II"}]},"mark":{"type":"text","fontSize":11,"baseline":"middle"},"encoding":{"text":{"field":"label"}}}
   ]},
  {"width":120,"height":190,
   "encoding":{"x":{"field":"x","type":"quantitative","scale":{"domain":[-1,36.5],"nice":false,"zero":false},"axis":null},"y":{"field":"y","type":"quantitative","scale":{"domain":[-30.6,163.3],"nice":false,"zero":false},"axis":null}},
   "layer":[
    {"data":{"name":"bin"},"transform":[{"filter":"datum.w=='III' && datum.s=='WT'"}],"mark":{"type":"line","color":"#000","strokeWidth":1.5}},
    {"data":{"name":"bin"},"transform":[{"filter":"datum.w=='III' && datum.s=='WT'"}],"mark":{"type":"circle","color":"#000","size":30,"opacity":1}},
    {"data":{"name":"bin"},"transform":[{"filter":"datum.w=='III' && datum.s=='A1'"}],"mark":{"type":"line","color":"#f37d7d","strokeWidth":1.5}},
    {"data":{"name":"bin"},"transform":[{"filter":"datum.w=='III' && datum.s=='A1'"}],"mark":{"type":"circle","color":"#f37d7d","size":26,"opacity":1}},
    {"data":{"values":[{"x":2,"y":120.4,"label":"III"}]},"mark":{"type":"text","fontSize":11,"baseline":"middle"},"encoding":{"text":{"field":"label"}}}
   ]}
 ],"spacing":8},
 {"hconcat":[
  {"vconcat":[
   {"width":274,"height":155,
    "encoding":{"x":{"field":"x","type":"quantitative","scale":{"domain":[0.705,22.16],"nice":false,"zero":false},"axis":null},"y":{"field":"y","type":"quantitative","scale":{"domain":[-30.16,92.86],"nice":false,"zero":false},"axis":null}},
    "layer":[
     {"data":{"name":"ceq"},"mark":{"type":"line","color":"#000","strokeWidth":1},"encoding":{"detail":{"field":"k"}}},
     {"data":{"name":"ceq"},"mark":{"type":"circle","size":50,"opacity":1},"encoding":{"color":{"condition":[{"test":"datum.x==2","value":"#ec1c24"},{"test":"datum.x==4","value":"#f4e31c"},{"test":"datum.x==5","value":"#6ab744"},{"test":"datum.x==9","value":"#6dcde5"},{"test":"datum.x==21","value":"#3c58a8"}],"value":"#000"}}},
     {"data":{"values":[{"x":-0.785,"y":37.3,"x2":-0.785,"y2":-12.7},{"x":-0.785,"y":-12.7,"x2":4.07,"y2":-12.7}]},"mark":{"type":"rule","color":"#000","strokeWidth":1},"encoding":{"x2":{"field":"x2"},"y2":{"field":"y2"}}},
     {"data":{"values":[{"x":-1.25,"y":54.8,"label":"Arch EEQ"}]},"mark":{"type":"text","fontSize":14,"align":"left","baseline":"middle"},"encoding":{"text":{"field":"label"}}},
     {"data":{"values":[{"x":1.41,"y":-21.4,"label":"10 ms"}]},"mark":{"type":"text","fontSize":11,"baseline":"middle"},"encoding":{"text":{"field":"label"}}},
     {"data":{"values":[{"x":-1.41,"y":13.5,"label":"50% ΔF/F"}]},"mark":{"type":"text","fontSize":11,"angle":270,"baseline":"middle"},"encoding":{"text":{"field":"label"}}},
     {"data":{"values":[{"x":-3.21,"y":69.05,"label":"c"}]},"mark":{"type":"text","fontSize":19,"align":"left","baseline":"alphabetic"},"encoding":{"text":{"field":"label"}}}
    ]},
   {"width":274,"height":212,
    "encoding":{"x":{"field":"x","type":"quantitative","scale":{"domain":[-100,50],"nice":false,"zero":false},"axis":{"values":[-100,-50,0,50],"title":"Membrane Voltage (mV)","titlePadding":1}},"y":{"field":"y","type":"quantitative","scale":{"domain":[-0.2,0.6],"nice":false,"zero":false},"axis":{"values":[-0.2,-0.1,0,0.1,0.2,0.3,0.4,0.5,0.6],"format":"~g","title":"% ΔF/F","titlePadding":0}}},
    "layer":[
     {"data":{"name":"eqw"},"mark":{"type":"area","color":"#000","opacity":1},"encoding":{"y2":{"field":"y2"}}},
     {"data":{"name":"eqb"},"mark":{"type":"line","color":"#111","strokeWidth":0.9},"encoding":{"detail":{"field":"n"}}},
     {"data":{"name":"eqs"},"mark":{"type":"rule","color":"#000","strokeWidth":2.2},"encoding":{"y2":{"field":"y2"}}},
     {"data":{"name":"eql"},"mark":{"type":"line","strokeWidth":1.6},"encoding":{"detail":{"field":"s"},"color":{"condition":[{"test":"datum.s==2","value":"#ec1c24"},{"test":"datum.s==4","value":"#f4e31c"},{"test":"datum.s==5","value":"#6ab744"},{"test":"datum.s==9","value":"#6dcde5"},{"test":"datum.s==21","value":"#3c58a8"}],"value":"#333"}}},
     {"data":{"name":"eqd"},"mark":{"type":"circle","size":14,"opacity":1},"encoding":{"color":{"condition":[{"test":"datum.s==2","value":"#ec1c24"},{"test":"datum.s==4","value":"#f4e31c"},{"test":"datum.s==5","value":"#6ab744"},{"test":"datum.s==9","value":"#6dcde5"},{"test":"datum.s==21","value":"#3c58a8"}],"value":"#000"}}}
    ]}
  ],"spacing":7},
  {"vconcat":[
   {"width":273,"height":155,
    "encoding":{"x":{"field":"x","type":"quantitative","scale":{"domain":[1.231,22.23],"nice":false,"zero":false},"axis":null},"y":{"field":"y","type":"quantitative","scale":{"domain":[-27.78,95.24],"nice":false,"zero":false},"axis":null}},
    "layer":[
     {"data":{"name":"car"},"mark":{"type":"line","color":"#000","strokeWidth":1},"encoding":{"detail":{"field":"k"}}},
     {"data":{"name":"car"},"mark":{"type":"circle","size":50,"opacity":1},"encoding":{"color":{"condition":[{"test":"datum.x==2","value":"#ec1c24"},{"test":"datum.x==4","value":"#f4e31c"},{"test":"datum.x==5","value":"#6ab744"},{"test":"datum.x==9","value":"#6dcde5"},{"test":"datum.x==21","value":"#3c58a8"}],"value":"#000"}}},
     {"data":{"values":[{"x":-0.54,"y":57.1,"label":"Archer2"}]},"mark":{"type":"text","fontSize":14,"align":"left","baseline":"middle"},"encoding":{"text":{"field":"label"}}}
    ]},
   {"width":273,"height":212,
    "encoding":{"x":{"field":"x","type":"quantitative","scale":{"domain":[-100,50],"nice":false,"zero":false},"axis":{"values":[-100,-50,0,50],"title":"Membrane Voltage (mV)","titlePadding":1}},"y":{"field":"y","type":"quantitative","scale":{"domain":[-0.2,1.2],"nice":false,"zero":false},"axis":{"values":[-0.2,0,0.2,0.4,0.6,0.8,1,1.2],"format":"~g","title":"% ΔF/F","titlePadding":0}}},
    "layer":[
     {"data":{"name":"arw"},"mark":{"type":"area","color":"#000","opacity":1},"encoding":{"y2":{"field":"y2"}}},
     {"data":{"name":"ars"},"mark":{"type":"rule","color":"#000","strokeWidth":2.2},"encoding":{"y2":{"field":"y2"}}},
     {"data":{"name":"arl"},"mark":{"type":"line","strokeWidth":1.6},"encoding":{"detail":{"field":"s"},"color":{"condition":[{"test":"datum.s==2","value":"#ec1c24"},{"test":"datum.s==4","value":"#f4e31c"},{"test":"datum.s==5","value":"#6ab744"},{"test":"datum.s==9","value":"#6dcde5"},{"test":"datum.s==21","value":"#3c58a8"}],"value":"#333"}}},
     {"data":{"name":"ard"},"mark":{"type":"circle","size":14,"opacity":1},"encoding":{"color":{"condition":[{"test":"datum.s==2","value":"#ec1c24"},{"test":"datum.s==4","value":"#f4e31c"},{"test":"datum.s==5","value":"#6ab744"},{"test":"datum.s==9","value":"#6dcde5"},{"test":"datum.s==21","value":"#3c58a8"}],"value":"#000"}}}
    ]}
  ],"spacing":7}
 ],"spacing":11},
 {"hconcat":[
  {"width":307,"height":229,
   "encoding":{"x":{"field":"x","type":"quantitative","scale":{"domain":[48,969],"nice":false,"zero":false},"axis":null},"y":{"field":"y","type":"quantitative","scale":{"domain":[-0.1105,1.0947],"nice":false,"zero":false},"axis":null}},
   "layer":[
    {"data":{"values":[{"x":-9,"x2":36,"y":-0.016,"y2":0.742}]},"mark":{"type":"rect","filled":false,"stroke":"#8a8a8a","strokeWidth":1.5},"encoding":{"x2":{"field":"x2"},"y2":{"field":"y2"}}},
    {"data":{"name":"dtr"},"mark":{"type":"line","strokeWidth":2.4},"encoding":{"color":{"field":"series","type":"nominal","scale":{"domain":["Archer1","Archer2","Arch EEQ"],"range":["#f37d7d","#1e9db8","#333333"]},"legend":{"orient":"none","legendX":-28,"legendY":18,"direction":"horizontal","title":null,"symbolType":"stroke","symbolSize":1849,"symbolStrokeWidth":4,"labelFontSize":11,"labelFontWeight":"bold","labelFont":"Liberation Sans","labelColor":"#000","columnPadding":12,"labelOffset":4}}}},
    {"data":{"values":[{"x":-27,"y":0.147,"x2":-27,"y2":-0.053},{"x":-27,"y":-0.053,"x2":174,"y2":-0.053}]},"mark":{"type":"rule","color":"#000","strokeWidth":1},"encoding":{"x2":{"field":"x2"},"y2":{"field":"y2"}}},
    {"data":{"values":[{"x":84,"y":-0.093,"label":"200 ms"}]},"mark":{"type":"text","fontSize":11,"baseline":"middle"},"encoding":{"text":{"field":"label"}}},
    {"data":{"values":[{"x":-48,"y":0.158,"label":"0.2% ΔF/F / ΔV"}]},"mark":{"type":"text","fontSize":11,"angle":270,"baseline":"middle"},"encoding":{"text":{"field":"label"}}},
    {"data":{"values":[{"x":-101.5,"y":0.937,"label":"d"}]},"mark":{"type":"text","fontSize":19,"align":"left","baseline":"alphabetic"},"encoding":{"text":{"field":"label"}}}
   ]},
  {"width":300,"height":229,
   "encoding":{"x":{"field":"x","type":"quantitative","scale":{"domain":[1.1335,22.098],"nice":false,"zero":false},"axis":null},"y":{"field":"y","type":"quantitative","scale":{"domain":[-0.0932,1.1121],"nice":false,"zero":false},"axis":null}},
   "layer":[
    {"data":{"values":[{"x":1.625,"x2":22.07,"y":0,"y2":0.758}]},"mark":{"type":"rect","filled":false,"stroke":"#8a8a8a","strokeWidth":1.5},"encoding":{"x2":{"field":"x2"},"y2":{"field":"y2"}}},
    {"data":{"name":"dzm"},"mark":{"type":"line","strokeWidth":2},"encoding":{"detail":{"field":"series"},"color":{"condition":[{"test":"datum.series=='Archer1'","value":"#f37d7d"},{"test":"datum.series=='Archer2'","value":"#1e9db8"}],"value":"#333333"}}},
    {"data":{"name":"dzm"},"mark":{"type":"circle","size":28,"opacity":1},"encoding":{"color":{"condition":[{"test":"datum.series=='Archer1'","value":"#f37d7d"},{"test":"datum.series=='Archer2'","value":"#1e9db8"}],"value":"#333333"}}},
    {"data":{"values":[{"x":1.435,"y":0.175,"x2":1.435,"y2":-0.035},{"x":1.435,"y":-0.035,"x2":7.2,"y2":-0.035}]},"mark":{"type":"rule","color":"#000","strokeWidth":1},"encoding":{"x2":{"field":"x2"},"y2":{"field":"y2"}}},
    {"data":{"values":[{"x":3.9,"y":-0.075,"label":"10 ms"}]},"mark":{"type":"text","fontSize":11,"baseline":"middle"},"encoding":{"text":{"field":"label"}}},
    {"data":{"values":[{"x":1.553,"y":0.14,"label":"0.2% ΔF/F / ΔV"}]},"mark":{"type":"text","fontSize":11,"angle":270,"baseline":"middle"},"encoding":{"text":{"field":"label"}}}
   ]}
 ],"spacing":0}
],"spacing":0,"resolve":{"scale":{"color":"independent"},"legend":{"color":"independent"}}}
]
}
